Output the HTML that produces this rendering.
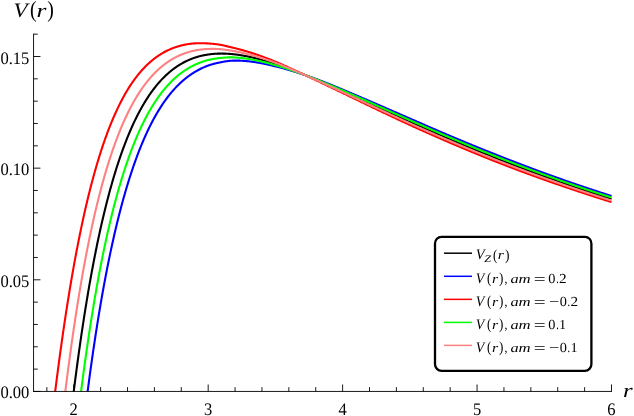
<!DOCTYPE html>
<html><head><meta charset="utf-8"><title>V(r)</title>
<style>html,body{margin:0;padding:0;background:#fff;}body{width:634px;height:416px;overflow:hidden;font-family:"Liberation Serif",serif;}svg{display:block;will-change:transform} text{text-rendering:geometricPrecision}</style>
</head><body>
<svg width="634" height="416" viewBox="0 0 634 416">
<rect width="634" height="416" fill="#fff"/>
<defs><clipPath id="cp"><rect x="33.55" y="0" width="590" height="391.45"/></clipPath></defs>
<g clip-path="url(#cp)" fill="none" stroke-width="2.1" stroke-linejoin="round">
<path d="M73.01,397.33 L73.49,393.48 L73.96,389.66 L74.44,385.88 L74.92,382.14 L75.39,378.44 L75.87,374.78 L76.35,371.15 L76.82,367.57 L77.30,364.01 L77.78,360.50 L78.25,357.02 L78.73,353.58 L79.21,350.17 L79.68,346.80 L80.16,343.46 L80.64,340.16 L81.11,336.89 L81.59,333.65 L82.07,330.45 L82.54,327.28 L83.02,324.14 L83.50,321.04 L83.97,317.96 L84.45,314.92 L84.92,311.91 L85.40,308.93 L85.88,305.98 L86.35,303.06 L86.83,300.17 L87.31,297.31 L87.78,294.48 L88.26,291.68 L88.74,288.91 L89.21,286.16 L89.69,283.44 L90.17,280.76 L90.64,278.09 L91.12,275.46 L91.60,272.85 L92.07,270.27 L92.55,267.72 L93.03,265.19 L93.50,262.69 L93.98,260.21 L94.46,257.76 L94.93,255.34 L95.41,252.94 L95.89,250.56 L96.36,248.21 L96.84,245.88 L97.31,243.58 L97.79,241.30 L98.27,239.04 L98.74,236.81 L99.22,234.60 L99.70,232.41 L100.17,230.24 L100.65,228.10 L101.13,225.98 L101.60,223.88 L102.08,221.80 L102.56,219.74 L103.03,217.71 L103.51,215.69 L103.99,213.70 L104.46,211.73 L104.94,209.78 L105.42,207.84 L105.89,205.93 L106.37,204.04 L106.85,202.17 L107.32,200.31 L107.80,198.48 L108.28,196.66 L108.75,194.87 L109.23,193.09 L109.70,191.33 L110.18,189.59 L110.66,187.86 L111.13,186.16 L111.61,184.47 L112.09,182.80 L112.56,181.15 L113.04,179.51 L113.52,177.90 L113.99,176.29 L114.47,174.71 L114.95,173.14 L115.42,171.59 L115.90,170.06 L116.38,168.54 L116.85,167.03 L117.33,165.55 L117.81,164.07 L118.28,162.62 L118.76,161.18 L119.24,159.75 L119.71,158.34 L120.19,156.95 L120.67,155.57 L121.14,154.20 L121.62,152.85 L122.09,151.51 L122.57,150.19 L123.05,148.88 L123.52,147.59 L124.00,146.30 L124.48,145.04 L124.95,143.78 L125.43,142.54 L125.91,141.32 L126.38,140.10 L126.86,138.90 L127.34,137.71 L127.81,136.54 L128.29,135.38 L128.77,134.23 L129.24,133.09 L129.72,131.97 L130.20,130.85 L130.67,129.75 L131.15,128.66 L131.63,127.59 L132.10,126.52 L132.58,125.47 L133.06,124.43 L133.53,123.40 L134.01,122.38 L134.48,121.37 L134.96,120.38 L135.44,119.39 L135.91,118.42 L136.39,117.46 L136.87,116.50 L137.34,115.56 L137.82,114.63 L138.30,113.71 L138.77,112.80 L139.25,111.90 L139.73,111.01 L140.20,110.13 L140.68,109.26 L141.16,108.40 L141.63,107.55 L142.11,106.71 L142.59,105.88 L143.06,105.06 L143.54,104.24 L144.02,103.44 L144.49,102.65 L144.97,101.87 L145.45,101.09 L145.92,100.32 L146.40,99.57 L146.87,98.82 L147.35,98.08 L147.83,97.35 L148.30,96.63 L148.78,95.91 L149.26,95.21 L149.73,94.51 L150.21,93.83 L150.69,93.15 L151.16,92.47 L151.64,91.81 L152.12,91.15 L152.59,90.51 L153.07,89.87 L153.55,89.24 L154.02,88.61 L154.50,88.00 L154.98,87.39 L155.45,86.79 L155.93,86.19 L156.41,85.60 L156.88,85.03 L157.36,84.45 L157.84,83.89 L158.31,83.33 L158.79,82.78 L159.26,82.24 L159.74,81.70 L160.22,81.17 L160.69,80.65 L161.17,80.13 L161.65,79.62 L162.12,79.12 L162.60,78.63 L163.08,78.14 L163.55,77.65 L164.03,77.18 L164.51,76.71 L164.98,76.24 L165.46,75.79 L165.94,75.33 L166.41,74.89 L166.89,74.45 L167.37,74.02 L167.84,73.59 L168.32,73.17 L168.80,72.75 L169.27,72.34 L169.75,71.94 L170.23,71.54 L170.70,71.15 L171.18,70.76 L171.65,70.38 L172.13,70.01 L172.61,69.64 L173.08,69.27 L173.56,68.91 L174.04,68.56 L174.51,68.21 L174.99,67.87 L175.47,67.53 L175.94,67.19 L176.42,66.87 L176.90,66.54 L177.37,66.23 L177.85,65.91 L178.33,65.60 L178.80,65.30 L179.28,65.00 L179.76,64.71 L180.23,64.42 L180.71,64.14 L181.19,63.86 L181.66,63.58 L182.14,63.31 L182.62,63.05 L183.09,62.79 L183.57,62.53 L184.04,62.28 L184.52,62.03 L185.00,61.79 L185.47,61.55 L185.95,61.31 L186.43,61.08 L186.90,60.86 L187.38,60.63 L187.86,60.41 L188.33,60.20 L188.81,59.99 L189.29,59.79 L189.76,59.58 L190.24,59.39 L190.72,59.19 L191.19,59.00 L191.67,58.81 L192.15,58.63 L192.62,58.45 L193.10,58.28 L193.58,58.11 L194.05,57.94 L194.53,57.78 L195.01,57.62 L195.48,57.46 L195.96,57.31 L196.43,57.16 L196.91,57.01 L197.39,56.87 L197.86,56.73 L198.34,56.59 L198.82,56.46 L199.29,56.33 L199.77,56.21 L200.25,56.09 L200.72,55.97 L201.20,55.85 L201.68,55.74 L202.15,55.63 L202.63,55.52 L203.11,55.42 L203.58,55.32 L204.06,55.22 L204.54,55.13 L205.01,55.04 L205.49,54.95 L205.97,54.87 L206.44,54.78 L206.92,54.70 L207.40,54.63 L207.87,54.55 L208.35,54.48 L208.82,54.42 L209.30,54.35 L209.78,54.29 L210.25,54.23 L210.73,54.17 L211.21,54.12 L211.68,54.07 L212.16,54.02 L212.64,53.97 L213.11,53.93 L213.59,53.89 L214.07,53.85 L214.54,53.82 L215.02,53.78 L215.50,53.75 L215.97,53.73 L216.45,53.70 L216.93,53.68 L217.40,53.66 L217.88,53.64 L218.36,53.62 L218.83,53.61 L219.31,53.60 L219.79,53.59 L220.26,53.58 L220.74,53.58 L221.21,53.57 L221.69,53.57 L222.17,53.58 L222.64,53.58 L223.12,53.59 L223.60,53.60 L224.07,53.61 L224.55,53.62 L225.03,53.63 L225.50,53.65 L225.98,53.67 L226.46,53.69 L226.93,53.71 L227.41,53.74 L227.89,53.77 L228.36,53.80 L228.84,53.83 L229.32,53.86 L229.79,53.90 L230.27,53.93 L230.75,53.97 L231.22,54.01 L231.70,54.05 L232.18,54.10 L232.65,54.14 L233.13,54.19 L233.60,54.24 L234.08,54.29 L234.56,54.35 L235.03,54.40 L235.51,54.46 L235.99,54.52 L236.46,54.58 L236.94,54.64 L237.42,54.70 L237.89,54.77 L238.37,54.83 L238.85,54.90 L239.32,54.97 L239.80,55.04 L240.28,55.12 L240.75,55.19 L241.23,55.27 L241.71,55.35 L242.18,55.43 L242.66,55.51 L243.14,55.59 L243.61,55.67 L244.09,55.76 L244.57,55.84 L245.04,55.93 L245.52,56.02 L245.99,56.11 L246.47,56.21 L246.95,56.30 L247.42,56.40 L247.90,56.49 L248.38,56.59 L248.85,56.69 L249.33,56.79 L249.81,56.89 L250.28,56.99 L250.76,57.10 L251.24,57.20 L251.71,57.31 L252.19,57.42 L252.67,57.53 L253.14,57.64 L253.62,57.75 L254.10,57.87 L254.57,57.98 L255.05,58.10 L255.53,58.21 L256.00,58.33 L256.48,58.45 L256.96,58.57 L257.43,58.69 L257.91,58.81 L258.38,58.94 L258.86,59.06 L259.34,59.19 L259.81,59.32 L260.29,59.44 L260.77,59.57 L261.24,59.70 L261.72,59.83 L262.20,59.97 L262.67,60.10 L263.15,60.23 L263.63,60.37 L264.10,60.51 L264.58,60.64 L265.06,60.78 L265.53,60.92 L266.01,61.06 L266.49,61.20 L266.96,61.34 L267.44,61.49 L267.92,61.63 L268.39,61.77 L268.87,61.92 L269.35,62.07 L269.82,62.21 L270.30,62.36 L270.77,62.51 L271.25,62.66 L271.73,62.81 L272.20,62.97 L272.68,63.12 L273.16,63.27 L273.63,63.43 L274.11,63.58 L274.59,63.74 L275.06,63.89 L275.54,64.05 L276.02,64.21 L276.49,64.37 L276.97,64.53 L277.45,64.69 L277.92,64.85 L278.40,65.01 L278.88,65.18 L279.35,65.34 L279.83,65.50 L280.31,65.67 L280.78,65.84 L281.26,66.00 L281.74,66.17 L282.21,66.34 L282.69,66.51 L283.16,66.67 L283.64,66.84 L284.12,67.02 L284.59,67.19 L285.07,67.36 L285.55,67.53 L286.02,67.70 L286.50,67.88 L286.98,68.05 L287.45,68.23 L287.93,68.40 L288.41,68.58 L288.88,68.76 L289.36,68.93 L289.84,69.11 L290.31,69.29 L290.79,69.47 L291.27,69.65 L291.74,69.83 L292.22,70.01 L292.70,70.19 L293.17,70.37 L293.65,70.56 L294.13,70.74 L294.60,70.92 L295.08,71.11 L295.55,71.29 L296.03,71.48 L296.51,71.66 L296.98,71.85 L297.46,72.03 L297.94,72.22 L298.41,72.41 L298.89,72.60 L299.37,72.78 L299.84,72.97 L300.32,73.16 L300.80,73.35 L301.27,73.54 L301.75,73.73 L302.23,73.92 L302.70,74.12 L303.18,74.31 L303.66,74.50 L304.13,74.69 L304.61,74.89 L305.09,75.08 L305.56,75.27 L306.04,75.47 L306.52,75.66 L306.99,75.86 L307.47,76.06 L307.94,76.25 L308.42,76.45 L308.90,76.64 L309.37,76.84 L309.85,77.04 L310.33,77.24 L310.80,77.44 L311.28,77.63 L311.76,77.83 L312.23,78.03 L312.71,78.23 L313.19,78.43 L313.66,78.63 L314.14,78.83 L314.62,79.03 L315.09,79.23 L315.57,79.44 L316.05,79.64 L316.52,79.84 L317.00,80.04 L317.48,80.25 L317.95,80.45 L318.43,80.65 L318.91,80.86 L319.38,81.06 L319.86,81.26 L320.33,81.47 L320.81,81.67 L321.29,81.88 L321.76,82.08 L322.24,82.29 L322.72,82.49 L323.19,82.70 L323.67,82.91 L324.15,83.11 L324.62,83.32 L325.10,83.53 L325.58,83.73 L326.05,83.94 L326.53,84.15 L327.01,84.36 L327.48,84.57 L327.96,84.77 L328.44,84.98 L328.91,85.19 L329.39,85.40 L329.87,85.61 L330.34,85.82 L330.82,86.03 L331.30,86.24 L331.77,86.45 L332.25,86.66 L332.72,86.87 L333.20,87.08 L333.68,87.29 L334.15,87.50 L334.63,87.71 L335.11,87.92 L335.58,88.14 L336.06,88.35 L336.54,88.56 L337.01,88.77 L337.49,88.98 L337.97,89.20 L338.44,89.41 L338.92,89.62 L339.40,89.83 L339.87,90.05 L340.35,90.26 L340.83,90.47 L341.30,90.69 L341.78,90.90 L342.26,91.11 L342.73,91.33 L343.21,91.54 L343.69,91.75 L344.16,91.97 L344.64,92.18 L345.11,92.40 L345.59,92.61 L346.07,92.82 L346.54,93.04 L347.02,93.25 L347.50,93.47 L347.97,93.68 L348.45,93.90 L348.93,94.11 L349.40,94.33 L349.88,94.54 L350.36,94.76 L350.83,94.97 L351.31,95.19 L351.79,95.41 L352.26,95.62 L352.74,95.84 L353.22,96.05 L353.69,96.27 L354.17,96.48 L354.65,96.70 L355.12,96.92 L355.60,97.13 L356.08,97.35 L356.55,97.57 L357.03,97.78 L357.50,98.00 L357.98,98.21 L358.46,98.43 L358.93,98.65 L359.41,98.86 L359.89,99.08 L360.36,99.30 L360.84,99.51 L361.32,99.73 L361.79,99.95 L362.27,100.16 L362.75,100.38 L363.22,100.60 L363.70,100.82 L364.18,101.03 L364.65,101.25 L365.13,101.47 L365.61,101.68 L366.08,101.90 L366.56,102.12 L367.04,102.33 L367.51,102.55 L367.99,102.77 L368.47,102.99 L368.94,103.20 L369.42,103.42 L369.89,103.64 L370.37,103.85 L370.85,104.07 L371.32,104.29 L371.80,104.51 L372.28,104.72 L372.75,104.94 L373.23,105.16 L373.71,105.37 L374.18,105.59 L374.66,105.81 L375.14,106.03 L375.61,106.24 L376.09,106.46 L376.57,106.68 L377.04,106.89 L377.52,107.11 L378.00,107.33 L378.47,107.55 L378.95,107.76 L379.43,107.98 L379.90,108.20 L380.38,108.41 L380.86,108.63 L381.33,108.85 L381.81,109.06 L382.28,109.28 L382.76,109.50 L383.24,109.71 L383.71,109.93 L384.19,110.15 L384.67,110.37 L385.14,110.58 L385.62,110.80 L386.10,111.01 L386.57,111.23 L387.05,111.45 L387.53,111.66 L388.00,111.88 L388.48,112.10 L388.96,112.31 L389.43,112.53 L389.91,112.75 L390.39,112.96 L390.86,113.18 L391.34,113.39 L391.82,113.61 L392.29,113.83 L392.77,114.04 L393.25,114.26 L393.72,114.47 L394.20,114.69 L394.67,114.90 L395.15,115.12 L395.63,115.34 L396.10,115.55 L396.58,115.77 L397.06,115.98 L397.53,116.20 L398.01,116.41 L398.49,116.63 L398.96,116.84 L399.44,117.06 L399.92,117.27 L400.39,117.49 L400.87,117.70 L401.35,117.92 L401.82,118.13 L402.30,118.34 L402.78,118.56 L403.25,118.77 L403.73,118.99 L404.21,119.20 L404.68,119.42 L405.16,119.63 L405.64,119.84 L406.11,120.06 L406.59,120.27 L407.06,120.48 L407.54,120.70 L408.02,120.91 L408.49,121.13 L408.97,121.34 L409.45,121.55 L409.92,121.76 L410.40,121.98 L410.88,122.19 L411.35,122.40 L411.83,122.62 L412.31,122.83 L412.78,123.04 L413.26,123.25 L413.74,123.47 L414.21,123.68 L414.69,123.89 L415.17,124.10 L415.64,124.31 L416.12,124.53 L416.60,124.74 L417.07,124.95 L417.55,125.16 L418.03,125.37 L418.50,125.58 L418.98,125.79 L419.45,126.01 L419.93,126.22 L420.41,126.43 L420.88,126.64 L421.36,126.85 L421.84,127.06 L422.31,127.27 L422.79,127.48 L423.27,127.69 L423.74,127.90 L424.22,128.11 L424.70,128.32 L425.17,128.53 L425.65,128.74 L426.13,128.95 L426.60,129.16 L427.08,129.37 L427.56,129.58 L428.03,129.79 L428.51,130.00 L428.99,130.20 L429.46,130.41 L429.94,130.62 L430.42,130.83 L430.89,131.04 L431.37,131.25 L431.84,131.45 L432.32,131.66 L432.80,131.87 L433.27,132.08 L433.75,132.29 L434.23,132.49 L434.70,132.70 L435.18,132.91 L435.66,133.11 L436.13,133.32 L436.61,133.53 L437.09,133.73 L437.56,133.94 L438.04,134.15 L438.52,134.35 L438.99,134.56 L439.47,134.77 L439.95,134.97 L440.42,135.18 L440.90,135.38 L441.38,135.59 L441.85,135.79 L442.33,136.00 L442.81,136.20 L443.28,136.41 L443.76,136.61 L444.23,136.82 L444.71,137.02 L445.19,137.23 L445.66,137.43 L446.14,137.64 L446.62,137.84 L447.09,138.04 L447.57,138.25 L448.05,138.45 L448.52,138.65 L449.00,138.86 L449.48,139.06 L449.95,139.26 L450.43,139.47 L450.91,139.67 L451.38,139.87 L451.86,140.08 L452.34,140.28 L452.81,140.48 L453.29,140.68 L453.77,140.88 L454.24,141.09 L454.72,141.29 L455.20,141.49 L455.67,141.69 L456.15,141.89 L456.62,142.09 L457.10,142.29 L457.58,142.49 L458.05,142.69 L458.53,142.89 L459.01,143.09 L459.48,143.29 L459.96,143.49 L460.44,143.69 L460.91,143.89 L461.39,144.09 L461.87,144.29 L462.34,144.49 L462.82,144.69 L463.30,144.89 L463.77,145.09 L464.25,145.29 L464.73,145.49 L465.20,145.68 L465.68,145.88 L466.16,146.08 L466.63,146.28 L467.11,146.48 L467.59,146.67 L468.06,146.87 L468.54,147.07 L469.01,147.27 L469.49,147.46 L469.97,147.66 L470.44,147.86 L470.92,148.05 L471.40,148.25 L471.87,148.45 L472.35,148.64 L472.83,148.84 L473.30,149.03 L473.78,149.23 L474.26,149.42 L474.73,149.62 L475.21,149.82 L475.69,150.01 L476.16,150.21 L476.64,150.40 L477.12,150.59 L477.59,150.79 L478.07,150.98 L478.55,151.18 L479.02,151.37 L479.50,151.56 L479.98,151.76 L480.45,151.95 L480.93,152.14 L481.40,152.34 L481.88,152.53 L482.36,152.72 L482.83,152.92 L483.31,153.11 L483.79,153.30 L484.26,153.49 L484.74,153.69 L485.22,153.88 L485.69,154.07 L486.17,154.26 L486.65,154.45 L487.12,154.64 L487.60,154.83 L488.08,155.02 L488.55,155.22 L489.03,155.41 L489.51,155.60 L489.98,155.79 L490.46,155.98 L490.94,156.17 L491.41,156.36 L491.89,156.55 L492.37,156.74 L492.84,156.93 L493.32,157.11 L493.79,157.30 L494.27,157.49 L494.75,157.68 L495.22,157.87 L495.70,158.06 L496.18,158.25 L496.65,158.43 L497.13,158.62 L497.61,158.81 L498.08,159.00 L498.56,159.18 L499.04,159.37 L499.51,159.56 L499.99,159.75 L500.47,159.93 L500.94,160.12 L501.42,160.30 L501.90,160.49 L502.37,160.68 L502.85,160.86 L503.33,161.05 L503.80,161.23 L504.28,161.42 L504.76,161.60 L505.23,161.79 L505.71,161.97 L506.18,162.16 L506.66,162.34 L507.14,162.53 L507.61,162.71 L508.09,162.90 L508.57,163.08 L509.04,163.26 L509.52,163.45 L510.00,163.63 L510.47,163.82 L510.95,164.00 L511.43,164.18 L511.90,164.36 L512.38,164.55 L512.86,164.73 L513.33,164.91 L513.81,165.09 L514.29,165.28 L514.76,165.46 L515.24,165.64 L515.72,165.82 L516.19,166.00 L516.67,166.18 L517.15,166.36 L517.62,166.55 L518.10,166.73 L518.57,166.91 L519.05,167.09 L519.53,167.27 L520.00,167.45 L520.48,167.63 L520.96,167.81 L521.43,167.99 L521.91,168.17 L522.39,168.34 L522.86,168.52 L523.34,168.70 L523.82,168.88 L524.29,169.06 L524.77,169.24 L525.25,169.42 L525.72,169.59 L526.20,169.77 L526.68,169.95 L527.15,170.13 L527.63,170.30 L528.11,170.48 L528.58,170.66 L529.06,170.84 L529.54,171.01 L530.01,171.19 L530.49,171.37 L530.96,171.54 L531.44,171.72 L531.92,171.89 L532.39,172.07 L532.87,172.25 L533.35,172.42 L533.82,172.60 L534.30,172.77 L534.78,172.95 L535.25,173.12 L535.73,173.30 L536.21,173.47 L536.68,173.64 L537.16,173.82 L537.64,173.99 L538.11,174.17 L538.59,174.34 L539.07,174.51 L539.54,174.69 L540.02,174.86 L540.50,175.03 L540.97,175.21 L541.45,175.38 L541.93,175.55 L542.40,175.72 L542.88,175.90 L543.35,176.07 L543.83,176.24 L544.31,176.41 L544.78,176.58 L545.26,176.75 L545.74,176.93 L546.21,177.10 L546.69,177.27 L547.17,177.44 L547.64,177.61 L548.12,177.78 L548.60,177.95 L549.07,178.12 L549.55,178.29 L550.03,178.46 L550.50,178.63 L550.98,178.80 L551.46,178.97 L551.93,179.14 L552.41,179.31 L552.89,179.47 L553.36,179.64 L553.84,179.81 L554.32,179.98 L554.79,180.15 L555.27,180.32 L555.74,180.48 L556.22,180.65 L556.70,180.82 L557.17,180.99 L557.65,181.15 L558.13,181.32 L558.60,181.49 L559.08,181.65 L559.56,181.82 L560.03,181.99 L560.51,182.15 L560.99,182.32 L561.46,182.48 L561.94,182.65 L562.42,182.82 L562.89,182.98 L563.37,183.15 L563.85,183.31 L564.32,183.48 L564.80,183.64 L565.28,183.81 L565.75,183.97 L566.23,184.13 L566.71,184.30 L567.18,184.46 L567.66,184.63 L568.13,184.79 L568.61,184.95 L569.09,185.12 L569.56,185.28 L570.04,185.44 L570.52,185.61 L570.99,185.77 L571.47,185.93 L571.95,186.09 L572.42,186.26 L572.90,186.42 L573.38,186.58 L573.85,186.74 L574.33,186.90 L574.81,187.06 L575.28,187.23 L575.76,187.39 L576.24,187.55 L576.71,187.71 L577.19,187.87 L577.67,188.03 L578.14,188.19 L578.62,188.35 L579.10,188.51 L579.57,188.67 L580.05,188.83 L580.52,188.99 L581.00,189.15 L581.48,189.31 L581.95,189.47 L582.43,189.63 L582.91,189.78 L583.38,189.94 L583.86,190.10 L584.34,190.26 L584.81,190.42 L585.29,190.58 L585.77,190.73 L586.24,190.89 L586.72,191.05 L587.20,191.21 L587.67,191.36 L588.15,191.52 L588.63,191.68 L589.10,191.83 L589.58,191.99 L590.06,192.15 L590.53,192.30 L591.01,192.46 L591.49,192.61 L591.96,192.77 L592.44,192.93 L592.91,193.08 L593.39,193.24 L593.87,193.39 L594.34,193.55 L594.82,193.70 L595.30,193.86 L595.77,194.01 L596.25,194.17 L596.73,194.32 L597.20,194.47 L597.68,194.63 L598.16,194.78 L598.63,194.94 L599.11,195.09 L599.59,195.24 L600.06,195.40 L600.54,195.55 L601.02,195.70 L601.49,195.85 L601.97,196.01 L602.45,196.16 L602.92,196.31 L603.40,196.46 L603.88,196.62 L604.35,196.77 L604.83,196.92 L605.30,197.07 L605.78,197.22 L606.26,197.37 L606.73,197.52 L607.21,197.67 L607.69,197.83 L608.16,197.98 L608.64,198.13 L609.12,198.28 L609.59,198.43 L610.07,198.58 L610.55,198.73 L611.02,198.88 L611.50,199.03" stroke="#000000"/>
<path d="M86.83,397.66 L87.31,393.94 L87.78,390.26 L88.26,386.62 L88.74,383.01 L89.21,379.45 L89.69,375.92 L90.17,372.42 L90.64,368.96 L91.12,365.54 L91.60,362.15 L92.07,358.80 L92.55,355.48 L93.03,352.20 L93.50,348.94 L93.98,345.73 L94.46,342.54 L94.93,339.39 L95.41,336.27 L95.89,333.18 L96.36,330.12 L96.84,327.09 L97.31,324.09 L97.79,321.12 L98.27,318.18 L98.74,315.28 L99.22,312.40 L99.70,309.55 L100.17,306.73 L100.65,303.93 L101.13,301.17 L101.60,298.43 L102.08,295.72 L102.56,293.04 L103.03,290.39 L103.51,287.76 L103.99,285.16 L104.46,282.58 L104.94,280.03 L105.42,277.51 L105.89,275.01 L106.37,272.54 L106.85,270.10 L107.32,267.67 L107.80,265.28 L108.28,262.90 L108.75,260.55 L109.23,258.22 L109.70,255.91 L110.18,253.63 L110.66,251.37 L111.13,249.13 L111.61,246.92 L112.09,244.72 L112.56,242.55 L113.04,240.40 L113.52,238.27 L113.99,236.16 L114.47,234.08 L114.95,232.01 L115.42,229.97 L115.90,227.95 L116.38,225.95 L116.85,223.97 L117.33,222.01 L117.81,220.07 L118.28,218.16 L118.76,216.26 L119.24,214.38 L119.71,212.53 L120.19,210.69 L120.67,208.87 L121.14,207.08 L121.62,205.30 L122.09,203.53 L122.57,201.79 L123.05,200.06 L123.52,198.34 L124.00,196.65 L124.48,194.97 L124.95,193.31 L125.43,191.66 L125.91,190.03 L126.38,188.41 L126.86,186.81 L127.34,185.23 L127.81,183.66 L128.29,182.11 L128.77,180.57 L129.24,179.05 L129.72,177.54 L130.20,176.05 L130.67,174.58 L131.15,173.11 L131.63,171.67 L132.10,170.24 L132.58,168.82 L133.06,167.41 L133.53,166.03 L134.01,164.65 L134.48,163.29 L134.96,161.95 L135.44,160.61 L135.91,159.30 L136.39,157.99 L136.87,156.70 L137.34,155.43 L137.82,154.16 L138.30,152.91 L138.77,151.68 L139.25,150.46 L139.73,149.25 L140.20,148.05 L140.68,146.87 L141.16,145.70 L141.63,144.54 L142.11,143.39 L142.59,142.26 L143.06,141.14 L143.54,140.03 L144.02,138.93 L144.49,137.84 L144.97,136.76 L145.45,135.70 L145.92,134.64 L146.40,133.60 L146.87,132.57 L147.35,131.55 L147.83,130.54 L148.30,129.54 L148.78,128.55 L149.26,127.57 L149.73,126.60 L150.21,125.64 L150.69,124.70 L151.16,123.76 L151.64,122.83 L152.12,121.92 L152.59,121.01 L153.07,120.12 L153.55,119.23 L154.02,118.35 L154.50,117.49 L154.98,116.63 L155.45,115.78 L155.93,114.94 L156.41,114.11 L156.88,113.30 L157.36,112.49 L157.84,111.69 L158.31,110.89 L158.79,110.11 L159.26,109.34 L159.74,108.58 L160.22,107.82 L160.69,107.08 L161.17,106.34 L161.65,105.61 L162.12,104.89 L162.60,104.18 L163.08,103.47 L163.55,102.78 L164.03,102.09 L164.51,101.41 L164.98,100.74 L165.46,100.08 L165.94,99.42 L166.41,98.77 L166.89,98.13 L167.37,97.50 L167.84,96.87 L168.32,96.26 L168.80,95.64 L169.27,95.04 L169.75,94.45 L170.23,93.86 L170.70,93.28 L171.18,92.70 L171.65,92.13 L172.13,91.57 L172.61,91.02 L173.08,90.48 L173.56,89.94 L174.04,89.40 L174.51,88.88 L174.99,88.36 L175.47,87.85 L175.94,87.34 L176.42,86.84 L176.90,86.35 L177.37,85.87 L177.85,85.39 L178.33,84.91 L178.80,84.45 L179.28,83.99 L179.76,83.53 L180.23,83.08 L180.71,82.64 L181.19,82.20 L181.66,81.77 L182.14,81.35 L182.62,80.93 L183.09,80.52 L183.57,80.11 L184.04,79.71 L184.52,79.31 L185.00,78.92 L185.47,78.53 L185.95,78.15 L186.43,77.78 L186.90,77.41 L187.38,77.04 L187.86,76.68 L188.33,76.33 L188.81,75.98 L189.29,75.63 L189.76,75.30 L190.24,74.96 L190.72,74.63 L191.19,74.31 L191.67,73.99 L192.15,73.67 L192.62,73.36 L193.10,73.05 L193.58,72.75 L194.05,72.45 L194.53,72.16 L195.01,71.87 L195.48,71.59 L195.96,71.31 L196.43,71.03 L196.91,70.76 L197.39,70.50 L197.86,70.23 L198.34,69.98 L198.82,69.72 L199.29,69.47 L199.77,69.22 L200.25,68.98 L200.72,68.74 L201.20,68.51 L201.68,68.28 L202.15,68.05 L202.63,67.83 L203.11,67.61 L203.58,67.40 L204.06,67.19 L204.54,66.99 L205.01,66.78 L205.49,66.59 L205.97,66.40 L206.44,66.21 L206.92,66.02 L207.40,65.84 L207.87,65.67 L208.35,65.49 L208.82,65.33 L209.30,65.16 L209.78,65.00 L210.25,64.85 L210.73,64.70 L211.21,64.55 L211.68,64.41 L212.16,64.27 L212.64,64.14 L213.11,64.01 L213.59,63.89 L214.07,63.76 L214.54,63.64 L215.02,63.53 L215.50,63.42 L215.97,63.31 L216.45,63.20 L216.93,63.09 L217.40,62.99 L217.88,62.89 L218.36,62.79 L218.83,62.69 L219.31,62.59 L219.79,62.50 L220.26,62.40 L220.74,62.31 L221.21,62.21 L221.69,62.11 L222.17,62.02 L222.64,61.93 L223.12,61.83 L223.60,61.74 L224.07,61.65 L224.55,61.57 L225.03,61.48 L225.50,61.40 L225.98,61.32 L226.46,61.24 L226.93,61.17 L227.41,61.11 L227.89,61.04 L228.36,60.98 L228.84,60.93 L229.32,60.88 L229.79,60.84 L230.27,60.80 L230.75,60.77 L231.22,60.74 L231.70,60.72 L232.18,60.69 L232.65,60.67 L233.13,60.65 L233.60,60.64 L234.08,60.62 L234.56,60.61 L235.03,60.61 L235.51,60.60 L235.99,60.60 L236.46,60.60 L236.94,60.60 L237.42,60.60 L237.89,60.61 L238.37,60.62 L238.85,60.63 L239.32,60.64 L239.80,60.66 L240.28,60.68 L240.75,60.70 L241.23,60.72 L241.71,60.74 L242.18,60.77 L242.66,60.80 L243.14,60.83 L243.61,60.86 L244.09,60.89 L244.57,60.93 L245.04,60.96 L245.52,61.00 L245.99,61.05 L246.47,61.09 L246.95,61.13 L247.42,61.18 L247.90,61.23 L248.38,61.28 L248.85,61.33 L249.33,61.38 L249.81,61.44 L250.28,61.49 L250.76,61.55 L251.24,61.61 L251.71,61.67 L252.19,61.73 L252.67,61.80 L253.14,61.86 L253.62,61.93 L254.10,61.99 L254.57,62.06 L255.05,62.13 L255.53,62.20 L256.00,62.28 L256.48,62.35 L256.96,62.43 L257.43,62.51 L257.91,62.59 L258.38,62.67 L258.86,62.75 L259.34,62.83 L259.81,62.92 L260.29,63.01 L260.77,63.10 L261.24,63.19 L261.72,63.28 L262.20,63.37 L262.67,63.46 L263.15,63.56 L263.63,63.66 L264.10,63.75 L264.58,63.85 L265.06,63.95 L265.53,64.05 L266.01,64.15 L266.49,64.26 L266.96,64.36 L267.44,64.47 L267.92,64.57 L268.39,64.68 L268.87,64.78 L269.35,64.89 L269.82,65.00 L270.30,65.11 L270.77,65.22 L271.25,65.33 L271.73,65.44 L272.20,65.55 L272.68,65.67 L273.16,65.78 L273.63,65.90 L274.11,66.01 L274.59,66.13 L275.06,66.24 L275.54,66.36 L276.02,66.48 L276.49,66.60 L276.97,66.72 L277.45,66.84 L277.92,66.96 L278.40,67.08 L278.88,67.21 L279.35,67.33 L279.83,67.45 L280.31,67.58 L280.78,67.71 L281.26,67.83 L281.74,67.96 L282.21,68.09 L282.69,68.22 L283.16,68.35 L283.64,68.48 L284.12,68.61 L284.59,68.74 L285.07,68.87 L285.55,69.00 L286.02,69.14 L286.50,69.27 L286.98,69.41 L287.45,69.54 L287.93,69.68 L288.41,69.82 L288.88,69.96 L289.36,70.09 L289.84,70.23 L290.31,70.37 L290.79,70.52 L291.27,70.66 L291.74,70.80 L292.22,70.94 L292.70,71.09 L293.17,71.23 L293.65,71.38 L294.13,71.52 L294.60,71.67 L295.08,71.82 L295.55,71.96 L296.03,72.11 L296.51,72.26 L296.98,72.41 L297.46,72.56 L297.94,72.71 L298.41,72.87 L298.89,73.02 L299.37,73.17 L299.84,73.33 L300.32,73.48 L300.80,73.64 L301.27,73.80 L301.75,73.95 L302.23,74.11 L302.70,74.27 L303.18,74.43 L303.66,74.59 L304.13,74.75 L304.61,74.91 L305.09,75.07 L305.56,75.24 L306.04,75.40 L306.52,75.57 L306.99,75.73 L307.47,75.90 L307.94,76.07 L308.42,76.24 L308.90,76.41 L309.37,76.58 L309.85,76.75 L310.33,76.92 L310.80,77.09 L311.28,77.26 L311.76,77.44 L312.23,77.61 L312.71,77.78 L313.19,77.96 L313.66,78.13 L314.14,78.31 L314.62,78.48 L315.09,78.66 L315.57,78.83 L316.05,79.01 L316.52,79.19 L317.00,79.36 L317.48,79.54 L317.95,79.72 L318.43,79.90 L318.91,80.08 L319.38,80.26 L319.86,80.44 L320.33,80.62 L320.81,80.80 L321.29,80.98 L321.76,81.16 L322.24,81.34 L322.72,81.53 L323.19,81.71 L323.67,81.89 L324.15,82.08 L324.62,82.26 L325.10,82.45 L325.58,82.63 L326.05,82.82 L326.53,83.01 L327.01,83.19 L327.48,83.38 L327.96,83.57 L328.44,83.76 L328.91,83.95 L329.39,84.14 L329.87,84.33 L330.34,84.52 L330.82,84.71 L331.30,84.90 L331.77,85.10 L332.25,85.29 L332.72,85.48 L333.20,85.68 L333.68,85.87 L334.15,86.07 L334.63,86.26 L335.11,86.46 L335.58,86.65 L336.06,86.85 L336.54,87.04 L337.01,87.24 L337.49,87.44 L337.97,87.63 L338.44,87.83 L338.92,88.03 L339.40,88.23 L339.87,88.43 L340.35,88.62 L340.83,88.82 L341.30,89.02 L341.78,89.22 L342.26,89.42 L342.73,89.62 L343.21,89.82 L343.69,90.02 L344.16,90.22 L344.64,90.42 L345.11,90.62 L345.59,90.82 L346.07,91.02 L346.54,91.22 L347.02,91.43 L347.50,91.63 L347.97,91.83 L348.45,92.03 L348.93,92.23 L349.40,92.43 L349.88,92.63 L350.36,92.84 L350.83,93.04 L351.31,93.24 L351.79,93.44 L352.26,93.64 L352.74,93.85 L353.22,94.05 L353.69,94.25 L354.17,94.45 L354.65,94.65 L355.12,94.86 L355.60,95.06 L356.08,95.26 L356.55,95.46 L357.03,95.67 L357.50,95.87 L357.98,96.07 L358.46,96.27 L358.93,96.48 L359.41,96.68 L359.89,96.88 L360.36,97.09 L360.84,97.29 L361.32,97.49 L361.79,97.70 L362.27,97.90 L362.75,98.10 L363.22,98.31 L363.70,98.51 L364.18,98.71 L364.65,98.92 L365.13,99.12 L365.61,99.33 L366.08,99.53 L366.56,99.73 L367.04,99.94 L367.51,100.14 L367.99,100.35 L368.47,100.55 L368.94,100.75 L369.42,100.96 L369.89,101.16 L370.37,101.37 L370.85,101.57 L371.32,101.78 L371.80,101.98 L372.28,102.19 L372.75,102.39 L373.23,102.60 L373.71,102.81 L374.18,103.01 L374.66,103.22 L375.14,103.42 L375.61,103.63 L376.09,103.83 L376.57,104.04 L377.04,104.25 L377.52,104.45 L378.00,104.66 L378.47,104.87 L378.95,105.07 L379.43,105.28 L379.90,105.49 L380.38,105.69 L380.86,105.90 L381.33,106.11 L381.81,106.32 L382.28,106.52 L382.76,106.73 L383.24,106.94 L383.71,107.15 L384.19,107.36 L384.67,107.56 L385.14,107.77 L385.62,107.98 L386.10,108.19 L386.57,108.40 L387.05,108.60 L387.53,108.81 L388.00,109.02 L388.48,109.23 L388.96,109.43 L389.43,109.64 L389.91,109.85 L390.39,110.06 L390.86,110.26 L391.34,110.47 L391.82,110.68 L392.29,110.88 L392.77,111.09 L393.25,111.30 L393.72,111.51 L394.20,111.71 L394.67,111.92 L395.15,112.13 L395.63,112.33 L396.10,112.54 L396.58,112.75 L397.06,112.96 L397.53,113.16 L398.01,113.37 L398.49,113.58 L398.96,113.78 L399.44,113.99 L399.92,114.20 L400.39,114.41 L400.87,114.61 L401.35,114.82 L401.82,115.03 L402.30,115.23 L402.78,115.44 L403.25,115.65 L403.73,115.86 L404.21,116.06 L404.68,116.27 L405.16,116.48 L405.64,116.68 L406.11,116.89 L406.59,117.10 L407.06,117.31 L407.54,117.51 L408.02,117.72 L408.49,117.93 L408.97,118.14 L409.45,118.34 L409.92,118.55 L410.40,118.76 L410.88,118.96 L411.35,119.17 L411.83,119.38 L412.31,119.59 L412.78,119.80 L413.26,120.00 L413.74,120.21 L414.21,120.42 L414.69,120.63 L415.17,120.83 L415.64,121.04 L416.12,121.25 L416.60,121.46 L417.07,121.67 L417.55,121.87 L418.03,122.08 L418.50,122.29 L418.98,122.50 L419.45,122.71 L419.93,122.92 L420.41,123.12 L420.88,123.33 L421.36,123.54 L421.84,123.75 L422.31,123.96 L422.79,124.17 L423.27,124.37 L423.74,124.58 L424.22,124.79 L424.70,125.00 L425.17,125.20 L425.65,125.41 L426.13,125.62 L426.60,125.83 L427.08,126.03 L427.56,126.24 L428.03,126.45 L428.51,126.65 L428.99,126.86 L429.46,127.07 L429.94,127.27 L430.42,127.48 L430.89,127.69 L431.37,127.89 L431.84,128.10 L432.32,128.31 L432.80,128.51 L433.27,128.72 L433.75,128.92 L434.23,129.13 L434.70,129.33 L435.18,129.54 L435.66,129.74 L436.13,129.95 L436.61,130.15 L437.09,130.36 L437.56,130.56 L438.04,130.77 L438.52,130.97 L438.99,131.18 L439.47,131.38 L439.95,131.59 L440.42,131.79 L440.90,131.99 L441.38,132.20 L441.85,132.40 L442.33,132.61 L442.81,132.81 L443.28,133.01 L443.76,133.22 L444.23,133.42 L444.71,133.62 L445.19,133.82 L445.66,134.03 L446.14,134.23 L446.62,134.43 L447.09,134.63 L447.57,134.84 L448.05,135.04 L448.52,135.24 L449.00,135.44 L449.48,135.64 L449.95,135.85 L450.43,136.05 L450.91,136.25 L451.38,136.45 L451.86,136.65 L452.34,136.85 L452.81,137.05 L453.29,137.25 L453.77,137.45 L454.24,137.65 L454.72,137.85 L455.20,138.05 L455.67,138.25 L456.15,138.45 L456.62,138.65 L457.10,138.85 L457.58,139.05 L458.05,139.25 L458.53,139.45 L459.01,139.65 L459.48,139.85 L459.96,140.05 L460.44,140.25 L460.91,140.45 L461.39,140.64 L461.87,140.84 L462.34,141.04 L462.82,141.24 L463.30,141.44 L463.77,141.63 L464.25,141.83 L464.73,142.03 L465.20,142.23 L465.68,142.42 L466.16,142.62 L466.63,142.82 L467.11,143.02 L467.59,143.21 L468.06,143.41 L468.54,143.61 L469.01,143.80 L469.49,144.00 L469.97,144.19 L470.44,144.39 L470.92,144.59 L471.40,144.78 L471.87,144.98 L472.35,145.17 L472.83,145.37 L473.30,145.56 L473.78,145.76 L474.26,145.95 L474.73,146.15 L475.21,146.34 L475.69,146.54 L476.16,146.73 L476.64,146.92 L477.12,147.12 L477.59,147.31 L478.07,147.51 L478.55,147.70 L479.02,147.89 L479.50,148.09 L479.98,148.28 L480.45,148.47 L480.93,148.67 L481.40,148.86 L481.88,149.05 L482.36,149.24 L482.83,149.44 L483.31,149.63 L483.79,149.82 L484.26,150.01 L484.74,150.20 L485.22,150.39 L485.69,150.59 L486.17,150.78 L486.65,150.97 L487.12,151.16 L487.60,151.35 L488.08,151.54 L488.55,151.73 L489.03,151.92 L489.51,152.11 L489.98,152.30 L490.46,152.49 L490.94,152.68 L491.41,152.87 L491.89,153.06 L492.37,153.25 L492.84,153.44 L493.32,153.63 L493.79,153.82 L494.27,154.01 L494.75,154.20 L495.22,154.39 L495.70,154.58 L496.18,154.77 L496.65,154.95 L497.13,155.14 L497.61,155.33 L498.08,155.52 L498.56,155.71 L499.04,155.89 L499.51,156.08 L499.99,156.27 L500.47,156.46 L500.94,156.64 L501.42,156.83 L501.90,157.02 L502.37,157.21 L502.85,157.39 L503.33,157.58 L503.80,157.77 L504.28,157.95 L504.76,158.14 L505.23,158.33 L505.71,158.51 L506.18,158.70 L506.66,158.88 L507.14,159.07 L507.61,159.25 L508.09,159.44 L508.57,159.63 L509.04,159.81 L509.52,160.00 L510.00,160.18 L510.47,160.37 L510.95,160.55 L511.43,160.73 L511.90,160.92 L512.38,161.10 L512.86,161.29 L513.33,161.47 L513.81,161.66 L514.29,161.84 L514.76,162.02 L515.24,162.21 L515.72,162.39 L516.19,162.57 L516.67,162.76 L517.15,162.94 L517.62,163.12 L518.10,163.30 L518.57,163.49 L519.05,163.67 L519.53,163.85 L520.00,164.03 L520.48,164.21 L520.96,164.40 L521.43,164.58 L521.91,164.76 L522.39,164.94 L522.86,165.12 L523.34,165.30 L523.82,165.48 L524.29,165.66 L524.77,165.84 L525.25,166.02 L525.72,166.20 L526.20,166.38 L526.68,166.56 L527.15,166.74 L527.63,166.92 L528.11,167.10 L528.58,167.28 L529.06,167.46 L529.54,167.64 L530.01,167.82 L530.49,168.00 L530.96,168.18 L531.44,168.36 L531.92,168.53 L532.39,168.71 L532.87,168.89 L533.35,169.07 L533.82,169.25 L534.30,169.42 L534.78,169.60 L535.25,169.78 L535.73,169.96 L536.21,170.13 L536.68,170.31 L537.16,170.49 L537.64,170.66 L538.11,170.84 L538.59,171.01 L539.07,171.19 L539.54,171.37 L540.02,171.54 L540.50,171.72 L540.97,171.89 L541.45,172.07 L541.93,172.24 L542.40,172.42 L542.88,172.59 L543.35,172.77 L543.83,172.94 L544.31,173.12 L544.78,173.29 L545.26,173.46 L545.74,173.64 L546.21,173.81 L546.69,173.98 L547.17,174.16 L547.64,174.33 L548.12,174.50 L548.60,174.68 L549.07,174.85 L549.55,175.02 L550.03,175.19 L550.50,175.37 L550.98,175.54 L551.46,175.71 L551.93,175.88 L552.41,176.05 L552.89,176.22 L553.36,176.40 L553.84,176.57 L554.32,176.74 L554.79,176.91 L555.27,177.08 L555.74,177.25 L556.22,177.42 L556.70,177.59 L557.17,177.76 L557.65,177.93 L558.13,178.10 L558.60,178.27 L559.08,178.44 L559.56,178.60 L560.03,178.77 L560.51,178.94 L560.99,179.11 L561.46,179.28 L561.94,179.45 L562.42,179.61 L562.89,179.78 L563.37,179.95 L563.85,180.12 L564.32,180.28 L564.80,180.45 L565.28,180.62 L565.75,180.78 L566.23,180.95 L566.71,181.12 L567.18,181.28 L567.66,181.45 L568.13,181.61 L568.61,181.78 L569.09,181.95 L569.56,182.11 L570.04,182.28 L570.52,182.44 L570.99,182.61 L571.47,182.77 L571.95,182.93 L572.42,183.10 L572.90,183.26 L573.38,183.43 L573.85,183.59 L574.33,183.75 L574.81,183.92 L575.28,184.08 L575.76,184.24 L576.24,184.41 L576.71,184.57 L577.19,184.73 L577.67,184.89 L578.14,185.05 L578.62,185.22 L579.10,185.38 L579.57,185.54 L580.05,185.70 L580.52,185.86 L581.00,186.02 L581.48,186.18 L581.95,186.34 L582.43,186.50 L582.91,186.67 L583.38,186.83 L583.86,186.99 L584.34,187.14 L584.81,187.30 L585.29,187.46 L585.77,187.62 L586.24,187.78 L586.72,187.94 L587.20,188.10 L587.67,188.26 L588.15,188.42 L588.63,188.58 L589.10,188.73 L589.58,188.89 L590.06,189.05 L590.53,189.21 L591.01,189.36 L591.49,189.52 L591.96,189.68 L592.44,189.84 L592.91,189.99 L593.39,190.15 L593.87,190.31 L594.34,190.46 L594.82,190.62 L595.30,190.77 L595.77,190.93 L596.25,191.09 L596.73,191.24 L597.20,191.40 L597.68,191.55 L598.16,191.71 L598.63,191.86 L599.11,192.02 L599.59,192.17 L600.06,192.33 L600.54,192.48 L601.02,192.63 L601.49,192.79 L601.97,192.94 L602.45,193.10 L602.92,193.25 L603.40,193.40 L603.88,193.56 L604.35,193.71 L604.83,193.86 L605.30,194.02 L605.78,194.17 L606.26,194.32 L606.73,194.47 L607.21,194.63 L607.69,194.78 L608.16,194.93 L608.64,195.08 L609.12,195.23 L609.59,195.38 L610.07,195.54 L610.55,195.69 L611.02,195.84 L611.50,195.99" stroke="#0000ff"/>
<path d="M54.43,397.62 L54.90,393.75 L55.38,389.91 L55.86,386.12 L56.33,382.35 L56.81,378.62 L57.29,374.93 L57.76,371.27 L58.24,367.64 L58.72,364.05 L59.19,360.49 L59.67,356.96 L60.14,353.47 L60.62,350.01 L61.10,346.58 L61.57,343.18 L62.05,339.81 L62.53,336.48 L63.00,333.17 L63.48,329.89 L63.96,326.65 L64.43,323.43 L64.91,320.25 L65.39,317.09 L65.86,313.96 L66.34,310.87 L66.82,307.80 L67.29,304.76 L67.77,301.74 L68.25,298.76 L68.72,295.81 L69.20,292.89 L69.68,289.99 L70.15,287.13 L70.63,284.29 L71.11,281.48 L71.58,278.69 L72.06,275.94 L72.53,273.21 L73.01,270.50 L73.49,267.83 L73.96,265.18 L74.44,262.55 L74.92,259.95 L75.39,257.38 L75.87,254.83 L76.35,252.31 L76.82,249.81 L77.30,247.33 L77.78,244.88 L78.25,242.45 L78.73,240.05 L79.21,237.67 L79.68,235.31 L80.16,232.98 L80.64,230.67 L81.11,228.38 L81.59,226.12 L82.07,223.88 L82.54,221.66 L83.02,219.46 L83.50,217.29 L83.97,215.14 L84.45,213.01 L84.92,210.90 L85.40,208.82 L85.88,206.75 L86.35,204.71 L86.83,202.69 L87.31,200.68 L87.78,198.70 L88.26,196.74 L88.74,194.80 L89.21,192.88 L89.69,190.97 L90.17,189.09 L90.64,187.23 L91.12,185.38 L91.60,183.56 L92.07,181.75 L92.55,179.96 L93.03,178.19 L93.50,176.44 L93.98,174.70 L94.46,172.98 L94.93,171.29 L95.41,169.61 L95.89,167.94 L96.36,166.30 L96.84,164.67 L97.31,163.06 L97.79,161.47 L98.27,159.90 L98.74,158.34 L99.22,156.79 L99.70,155.27 L100.17,153.76 L100.65,152.26 L101.13,150.79 L101.60,149.32 L102.08,147.88 L102.56,146.45 L103.03,145.03 L103.51,143.63 L103.99,142.24 L104.46,140.87 L104.94,139.52 L105.42,138.18 L105.89,136.85 L106.37,135.54 L106.85,134.24 L107.32,132.95 L107.80,131.68 L108.28,130.42 L108.75,129.18 L109.23,127.96 L109.70,126.74 L110.18,125.54 L110.66,124.36 L111.13,123.19 L111.61,122.03 L112.09,120.88 L112.56,119.75 L113.04,118.63 L113.52,117.52 L113.99,116.43 L114.47,115.34 L114.95,114.27 L115.42,113.21 L115.90,112.16 L116.38,111.12 L116.85,110.10 L117.33,109.08 L117.81,108.08 L118.28,107.08 L118.76,106.10 L119.24,105.12 L119.71,104.16 L120.19,103.21 L120.67,102.26 L121.14,101.33 L121.62,100.40 L122.09,99.49 L122.57,98.59 L123.05,97.70 L123.52,96.83 L124.00,95.96 L124.48,95.10 L124.95,94.26 L125.43,93.43 L125.91,92.60 L126.38,91.79 L126.86,90.99 L127.34,90.20 L127.81,89.42 L128.29,88.65 L128.77,87.88 L129.24,87.13 L129.72,86.39 L130.20,85.65 L130.67,84.93 L131.15,84.22 L131.63,83.51 L132.10,82.81 L132.58,82.12 L133.06,81.44 L133.53,80.77 L134.01,80.11 L134.48,79.46 L134.96,78.81 L135.44,78.17 L135.91,77.54 L136.39,76.92 L136.87,76.30 L137.34,75.70 L137.82,75.10 L138.30,74.50 L138.77,73.92 L139.25,73.34 L139.73,72.77 L140.20,72.21 L140.68,71.65 L141.16,71.10 L141.63,70.56 L142.11,70.02 L142.59,69.49 L143.06,68.97 L143.54,68.46 L144.02,67.96 L144.49,67.46 L144.97,66.97 L145.45,66.48 L145.92,66.00 L146.40,65.53 L146.87,65.07 L147.35,64.61 L147.83,64.16 L148.30,63.72 L148.78,63.28 L149.26,62.85 L149.73,62.42 L150.21,62.01 L150.69,61.59 L151.16,61.19 L151.64,60.79 L152.12,60.39 L152.59,60.00 L153.07,59.62 L153.55,59.24 L154.02,58.87 L154.50,58.51 L154.98,58.14 L155.45,57.79 L155.93,57.44 L156.41,57.10 L156.88,56.76 L157.36,56.42 L157.84,56.09 L158.31,55.77 L158.79,55.45 L159.26,55.14 L159.74,54.83 L160.22,54.52 L160.69,54.22 L161.17,53.93 L161.65,53.64 L162.12,53.35 L162.60,53.07 L163.08,52.80 L163.55,52.53 L164.03,52.26 L164.51,52.00 L164.98,51.75 L165.46,51.50 L165.94,51.25 L166.41,51.01 L166.89,50.77 L167.37,50.54 L167.84,50.31 L168.32,50.08 L168.80,49.86 L169.27,49.65 L169.75,49.43 L170.23,49.23 L170.70,49.02 L171.18,48.82 L171.65,48.63 L172.13,48.44 L172.61,48.25 L173.08,48.07 L173.56,47.89 L174.04,47.71 L174.51,47.54 L174.99,47.37 L175.47,47.21 L175.94,47.05 L176.42,46.89 L176.90,46.74 L177.37,46.59 L177.85,46.44 L178.33,46.30 L178.80,46.16 L179.28,46.02 L179.76,45.89 L180.23,45.76 L180.71,45.63 L181.19,45.51 L181.66,45.39 L182.14,45.28 L182.62,45.16 L183.09,45.05 L183.57,44.95 L184.04,44.85 L184.52,44.75 L185.00,44.65 L185.47,44.56 L185.95,44.47 L186.43,44.38 L186.90,44.30 L187.38,44.22 L187.86,44.15 L188.33,44.07 L188.81,44.00 L189.29,43.94 L189.76,43.87 L190.24,43.81 L190.72,43.75 L191.19,43.70 L191.67,43.64 L192.15,43.60 L192.62,43.55 L193.10,43.51 L193.58,43.46 L194.05,43.43 L194.53,43.39 L195.01,43.36 L195.48,43.33 L195.96,43.30 L196.43,43.28 L196.91,43.26 L197.39,43.24 L197.86,43.23 L198.34,43.21 L198.82,43.20 L199.29,43.20 L199.77,43.19 L200.25,43.19 L200.72,43.19 L201.20,43.19 L201.68,43.20 L202.15,43.20 L202.63,43.21 L203.11,43.23 L203.58,43.24 L204.06,43.25 L204.54,43.27 L205.01,43.29 L205.49,43.31 L205.97,43.34 L206.44,43.36 L206.92,43.39 L207.40,43.41 L207.87,43.44 L208.35,43.47 L208.82,43.51 L209.30,43.54 L209.78,43.58 L210.25,43.61 L210.73,43.65 L211.21,43.69 L211.68,43.73 L212.16,43.77 L212.64,43.81 L213.11,43.85 L213.59,43.90 L214.07,43.94 L214.54,43.99 L215.02,44.04 L215.50,44.09 L215.97,44.14 L216.45,44.20 L216.93,44.26 L217.40,44.32 L217.88,44.39 L218.36,44.45 L218.83,44.53 L219.31,44.60 L219.79,44.68 L220.26,44.76 L220.74,44.85 L221.21,44.94 L221.69,45.03 L222.17,45.13 L222.64,45.23 L223.12,45.34 L223.60,45.45 L224.07,45.56 L224.55,45.67 L225.03,45.79 L225.50,45.90 L225.98,46.02 L226.46,46.14 L226.93,46.26 L227.41,46.37 L227.89,46.49 L228.36,46.61 L228.84,46.72 L229.32,46.84 L229.79,46.95 L230.27,47.06 L230.75,47.17 L231.22,47.28 L231.70,47.39 L232.18,47.50 L232.65,47.62 L233.13,47.73 L233.60,47.85 L234.08,47.96 L234.56,48.08 L235.03,48.20 L235.51,48.32 L235.99,48.44 L236.46,48.56 L236.94,48.68 L237.42,48.80 L237.89,48.93 L238.37,49.05 L238.85,49.18 L239.32,49.30 L239.80,49.43 L240.28,49.56 L240.75,49.69 L241.23,49.82 L241.71,49.95 L242.18,50.08 L242.66,50.22 L243.14,50.35 L243.61,50.49 L244.09,50.62 L244.57,50.76 L245.04,50.90 L245.52,51.04 L245.99,51.18 L246.47,51.32 L246.95,51.47 L247.42,51.61 L247.90,51.75 L248.38,51.90 L248.85,52.05 L249.33,52.20 L249.81,52.35 L250.28,52.50 L250.76,52.65 L251.24,52.80 L251.71,52.95 L252.19,53.11 L252.67,53.26 L253.14,53.42 L253.62,53.58 L254.10,53.74 L254.57,53.90 L255.05,54.06 L255.53,54.22 L256.00,54.38 L256.48,54.55 L256.96,54.71 L257.43,54.88 L257.91,55.04 L258.38,55.21 L258.86,55.37 L259.34,55.54 L259.81,55.71 L260.29,55.88 L260.77,56.05 L261.24,56.22 L261.72,56.39 L262.20,56.56 L262.67,56.73 L263.15,56.91 L263.63,57.08 L264.10,57.26 L264.58,57.43 L265.06,57.61 L265.53,57.79 L266.01,57.97 L266.49,58.15 L266.96,58.33 L267.44,58.51 L267.92,58.69 L268.39,58.87 L268.87,59.06 L269.35,59.24 L269.82,59.43 L270.30,59.62 L270.77,59.81 L271.25,60.00 L271.73,60.19 L272.20,60.38 L272.68,60.57 L273.16,60.76 L273.63,60.96 L274.11,61.15 L274.59,61.35 L275.06,61.54 L275.54,61.74 L276.02,61.94 L276.49,62.14 L276.97,62.34 L277.45,62.54 L277.92,62.74 L278.40,62.94 L278.88,63.15 L279.35,63.35 L279.83,63.55 L280.31,63.76 L280.78,63.96 L281.26,64.17 L281.74,64.38 L282.21,64.59 L282.69,64.79 L283.16,65.00 L283.64,65.21 L284.12,65.42 L284.59,65.63 L285.07,65.85 L285.55,66.06 L286.02,66.27 L286.50,66.48 L286.98,66.70 L287.45,66.91 L287.93,67.13 L288.41,67.34 L288.88,67.56 L289.36,67.77 L289.84,67.99 L290.31,68.21 L290.79,68.42 L291.27,68.64 L291.74,68.86 L292.22,69.08 L292.70,69.30 L293.17,69.52 L293.65,69.73 L294.13,69.95 L294.60,70.18 L295.08,70.40 L295.55,70.62 L296.03,70.84 L296.51,71.06 L296.98,71.28 L297.46,71.50 L297.94,71.73 L298.41,71.95 L298.89,72.17 L299.37,72.40 L299.84,72.62 L300.32,72.84 L300.80,73.07 L301.27,73.29 L301.75,73.51 L302.23,73.74 L302.70,73.96 L303.18,74.19 L303.66,74.41 L304.13,74.64 L304.61,74.86 L305.09,75.09 L305.56,75.31 L306.04,75.54 L306.52,75.76 L306.99,75.99 L307.47,76.21 L307.94,76.43 L308.42,76.66 L308.90,76.88 L309.37,77.11 L309.85,77.33 L310.33,77.56 L310.80,77.78 L311.28,78.00 L311.76,78.23 L312.23,78.45 L312.71,78.68 L313.19,78.91 L313.66,79.13 L314.14,79.36 L314.62,79.59 L315.09,79.81 L315.57,80.04 L316.05,80.27 L316.52,80.49 L317.00,80.72 L317.48,80.95 L317.95,81.18 L318.43,81.41 L318.91,81.63 L319.38,81.86 L319.86,82.09 L320.33,82.32 L320.81,82.55 L321.29,82.78 L321.76,83.01 L322.24,83.23 L322.72,83.46 L323.19,83.69 L323.67,83.92 L324.15,84.15 L324.62,84.38 L325.10,84.61 L325.58,84.84 L326.05,85.06 L326.53,85.29 L327.01,85.52 L327.48,85.75 L327.96,85.98 L328.44,86.21 L328.91,86.43 L329.39,86.66 L329.87,86.89 L330.34,87.12 L330.82,87.35 L331.30,87.57 L331.77,87.80 L332.25,88.03 L332.72,88.26 L333.20,88.48 L333.68,88.71 L334.15,88.94 L334.63,89.17 L335.11,89.39 L335.58,89.62 L336.06,89.85 L336.54,90.07 L337.01,90.30 L337.49,90.53 L337.97,90.76 L338.44,90.98 L338.92,91.21 L339.40,91.44 L339.87,91.67 L340.35,91.89 L340.83,92.12 L341.30,92.35 L341.78,92.58 L342.26,92.80 L342.73,93.03 L343.21,93.26 L343.69,93.49 L344.16,93.71 L344.64,93.94 L345.11,94.17 L345.59,94.40 L346.07,94.62 L346.54,94.85 L347.02,95.08 L347.50,95.31 L347.97,95.54 L348.45,95.77 L348.93,95.99 L349.40,96.22 L349.88,96.45 L350.36,96.68 L350.83,96.91 L351.31,97.14 L351.79,97.37 L352.26,97.60 L352.74,97.83 L353.22,98.06 L353.69,98.29 L354.17,98.52 L354.65,98.75 L355.12,98.98 L355.60,99.21 L356.08,99.44 L356.55,99.67 L357.03,99.90 L357.50,100.13 L357.98,100.36 L358.46,100.59 L358.93,100.82 L359.41,101.05 L359.89,101.28 L360.36,101.51 L360.84,101.74 L361.32,101.97 L361.79,102.20 L362.27,102.43 L362.75,102.66 L363.22,102.89 L363.70,103.12 L364.18,103.35 L364.65,103.58 L365.13,103.81 L365.61,104.04 L366.08,104.27 L366.56,104.50 L367.04,104.73 L367.51,104.96 L367.99,105.19 L368.47,105.42 L368.94,105.65 L369.42,105.88 L369.89,106.11 L370.37,106.34 L370.85,106.57 L371.32,106.80 L371.80,107.03 L372.28,107.26 L372.75,107.49 L373.23,107.71 L373.71,107.94 L374.18,108.17 L374.66,108.40 L375.14,108.63 L375.61,108.86 L376.09,109.09 L376.57,109.31 L377.04,109.54 L377.52,109.77 L378.00,110.00 L378.47,110.22 L378.95,110.45 L379.43,110.68 L379.90,110.91 L380.38,111.13 L380.86,111.36 L381.33,111.59 L381.81,111.81 L382.28,112.04 L382.76,112.26 L383.24,112.49 L383.71,112.71 L384.19,112.94 L384.67,113.17 L385.14,113.39 L385.62,113.62 L386.10,113.84 L386.57,114.07 L387.05,114.29 L387.53,114.52 L388.00,114.74 L388.48,114.97 L388.96,115.19 L389.43,115.42 L389.91,115.64 L390.39,115.87 L390.86,116.09 L391.34,116.32 L391.82,116.54 L392.29,116.77 L392.77,116.99 L393.25,117.22 L393.72,117.44 L394.20,117.66 L394.67,117.89 L395.15,118.11 L395.63,118.34 L396.10,118.56 L396.58,118.78 L397.06,119.01 L397.53,119.23 L398.01,119.45 L398.49,119.68 L398.96,119.90 L399.44,120.12 L399.92,120.34 L400.39,120.57 L400.87,120.79 L401.35,121.01 L401.82,121.23 L402.30,121.45 L402.78,121.68 L403.25,121.90 L403.73,122.12 L404.21,122.34 L404.68,122.56 L405.16,122.78 L405.64,123.00 L406.11,123.22 L406.59,123.44 L407.06,123.66 L407.54,123.88 L408.02,124.10 L408.49,124.32 L408.97,124.54 L409.45,124.76 L409.92,124.98 L410.40,125.20 L410.88,125.42 L411.35,125.63 L411.83,125.85 L412.31,126.07 L412.78,126.29 L413.26,126.50 L413.74,126.72 L414.21,126.94 L414.69,127.15 L415.17,127.37 L415.64,127.59 L416.12,127.80 L416.60,128.02 L417.07,128.23 L417.55,128.45 L418.03,128.66 L418.50,128.88 L418.98,129.09 L419.45,129.30 L419.93,129.52 L420.41,129.73 L420.88,129.94 L421.36,130.16 L421.84,130.37 L422.31,130.58 L422.79,130.80 L423.27,131.01 L423.74,131.22 L424.22,131.43 L424.70,131.64 L425.17,131.86 L425.65,132.07 L426.13,132.28 L426.60,132.49 L427.08,132.70 L427.56,132.91 L428.03,133.12 L428.51,133.34 L428.99,133.55 L429.46,133.76 L429.94,133.97 L430.42,134.18 L430.89,134.39 L431.37,134.60 L431.84,134.81 L432.32,135.02 L432.80,135.23 L433.27,135.44 L433.75,135.65 L434.23,135.86 L434.70,136.07 L435.18,136.27 L435.66,136.48 L436.13,136.69 L436.61,136.90 L437.09,137.11 L437.56,137.32 L438.04,137.53 L438.52,137.73 L438.99,137.94 L439.47,138.15 L439.95,138.36 L440.42,138.56 L440.90,138.77 L441.38,138.98 L441.85,139.19 L442.33,139.39 L442.81,139.60 L443.28,139.81 L443.76,140.01 L444.23,140.22 L444.71,140.43 L445.19,140.63 L445.66,140.84 L446.14,141.04 L446.62,141.25 L447.09,141.45 L447.57,141.66 L448.05,141.86 L448.52,142.07 L449.00,142.27 L449.48,142.48 L449.95,142.68 L450.43,142.89 L450.91,143.09 L451.38,143.30 L451.86,143.50 L452.34,143.70 L452.81,143.91 L453.29,144.11 L453.77,144.31 L454.24,144.52 L454.72,144.72 L455.20,144.92 L455.67,145.12 L456.15,145.33 L456.62,145.53 L457.10,145.73 L457.58,145.93 L458.05,146.14 L458.53,146.34 L459.01,146.54 L459.48,146.74 L459.96,146.94 L460.44,147.14 L460.91,147.34 L461.39,147.54 L461.87,147.74 L462.34,147.94 L462.82,148.14 L463.30,148.34 L463.77,148.54 L464.25,148.74 L464.73,148.94 L465.20,149.14 L465.68,149.34 L466.16,149.54 L466.63,149.74 L467.11,149.94 L467.59,150.14 L468.06,150.33 L468.54,150.53 L469.01,150.73 L469.49,150.93 L469.97,151.13 L470.44,151.32 L470.92,151.52 L471.40,151.72 L471.87,151.92 L472.35,152.11 L472.83,152.31 L473.30,152.50 L473.78,152.70 L474.26,152.90 L474.73,153.09 L475.21,153.29 L475.69,153.48 L476.16,153.68 L476.64,153.88 L477.12,154.07 L477.59,154.27 L478.07,154.46 L478.55,154.65 L479.02,154.85 L479.50,155.04 L479.98,155.24 L480.45,155.43 L480.93,155.62 L481.40,155.82 L481.88,156.01 L482.36,156.20 L482.83,156.40 L483.31,156.59 L483.79,156.78 L484.26,156.98 L484.74,157.17 L485.22,157.36 L485.69,157.55 L486.17,157.74 L486.65,157.93 L487.12,158.13 L487.60,158.32 L488.08,158.51 L488.55,158.70 L489.03,158.89 L489.51,159.08 L489.98,159.27 L490.46,159.46 L490.94,159.65 L491.41,159.84 L491.89,160.03 L492.37,160.22 L492.84,160.41 L493.32,160.60 L493.79,160.79 L494.27,160.97 L494.75,161.16 L495.22,161.35 L495.70,161.54 L496.18,161.73 L496.65,161.91 L497.13,162.10 L497.61,162.29 L498.08,162.47 L498.56,162.66 L499.04,162.85 L499.51,163.03 L499.99,163.22 L500.47,163.41 L500.94,163.59 L501.42,163.78 L501.90,163.96 L502.37,164.15 L502.85,164.33 L503.33,164.52 L503.80,164.70 L504.28,164.89 L504.76,165.07 L505.23,165.25 L505.71,165.44 L506.18,165.62 L506.66,165.81 L507.14,165.99 L507.61,166.17 L508.09,166.35 L508.57,166.54 L509.04,166.72 L509.52,166.90 L510.00,167.08 L510.47,167.27 L510.95,167.45 L511.43,167.63 L511.90,167.81 L512.38,167.99 L512.86,168.17 L513.33,168.35 L513.81,168.53 L514.29,168.71 L514.76,168.89 L515.24,169.07 L515.72,169.25 L516.19,169.43 L516.67,169.61 L517.15,169.79 L517.62,169.97 L518.10,170.15 L518.57,170.33 L519.05,170.51 L519.53,170.68 L520.00,170.86 L520.48,171.04 L520.96,171.22 L521.43,171.39 L521.91,171.57 L522.39,171.75 L522.86,171.93 L523.34,172.10 L523.82,172.28 L524.29,172.46 L524.77,172.63 L525.25,172.81 L525.72,172.98 L526.20,173.16 L526.68,173.34 L527.15,173.51 L527.63,173.69 L528.11,173.86 L528.58,174.04 L529.06,174.21 L529.54,174.38 L530.01,174.56 L530.49,174.73 L530.96,174.91 L531.44,175.08 L531.92,175.25 L532.39,175.43 L532.87,175.60 L533.35,175.77 L533.82,175.95 L534.30,176.12 L534.78,176.29 L535.25,176.46 L535.73,176.64 L536.21,176.81 L536.68,176.98 L537.16,177.15 L537.64,177.32 L538.11,177.49 L538.59,177.67 L539.07,177.84 L539.54,178.01 L540.02,178.18 L540.50,178.35 L540.97,178.52 L541.45,178.69 L541.93,178.86 L542.40,179.03 L542.88,179.20 L543.35,179.37 L543.83,179.54 L544.31,179.71 L544.78,179.88 L545.26,180.04 L545.74,180.21 L546.21,180.38 L546.69,180.55 L547.17,180.72 L547.64,180.89 L548.12,181.05 L548.60,181.22 L549.07,181.39 L549.55,181.56 L550.03,181.72 L550.50,181.89 L550.98,182.06 L551.46,182.22 L551.93,182.39 L552.41,182.56 L552.89,182.72 L553.36,182.89 L553.84,183.06 L554.32,183.22 L554.79,183.39 L555.27,183.55 L555.74,183.72 L556.22,183.88 L556.70,184.05 L557.17,184.21 L557.65,184.38 L558.13,184.54 L558.60,184.71 L559.08,184.87 L559.56,185.04 L560.03,185.20 L560.51,185.36 L560.99,185.53 L561.46,185.69 L561.94,185.85 L562.42,186.02 L562.89,186.18 L563.37,186.34 L563.85,186.51 L564.32,186.67 L564.80,186.83 L565.28,186.99 L565.75,187.16 L566.23,187.32 L566.71,187.48 L567.18,187.64 L567.66,187.80 L568.13,187.96 L568.61,188.13 L569.09,188.29 L569.56,188.45 L570.04,188.61 L570.52,188.77 L570.99,188.93 L571.47,189.09 L571.95,189.25 L572.42,189.41 L572.90,189.57 L573.38,189.73 L573.85,189.89 L574.33,190.05 L574.81,190.21 L575.28,190.37 L575.76,190.53 L576.24,190.69 L576.71,190.85 L577.19,191.01 L577.67,191.17 L578.14,191.32 L578.62,191.48 L579.10,191.64 L579.57,191.80 L580.05,191.96 L580.52,192.12 L581.00,192.27 L581.48,192.43 L581.95,192.59 L582.43,192.75 L582.91,192.90 L583.38,193.06 L583.86,193.22 L584.34,193.37 L584.81,193.53 L585.29,193.69 L585.77,193.84 L586.24,194.00 L586.72,194.16 L587.20,194.31 L587.67,194.47 L588.15,194.62 L588.63,194.78 L589.10,194.93 L589.58,195.09 L590.06,195.24 L590.53,195.40 L591.01,195.55 L591.49,195.71 L591.96,195.86 L592.44,196.02 L592.91,196.17 L593.39,196.32 L593.87,196.48 L594.34,196.63 L594.82,196.79 L595.30,196.94 L595.77,197.09 L596.25,197.25 L596.73,197.40 L597.20,197.55 L597.68,197.70 L598.16,197.86 L598.63,198.01 L599.11,198.16 L599.59,198.31 L600.06,198.47 L600.54,198.62 L601.02,198.77 L601.49,198.92 L601.97,199.07 L602.45,199.22 L602.92,199.37 L603.40,199.52 L603.88,199.67 L604.35,199.82 L604.83,199.98 L605.30,200.13 L605.78,200.28 L606.26,200.43 L606.73,200.57 L607.21,200.72 L607.69,200.87 L608.16,201.02 L608.64,201.17 L609.12,201.32 L609.59,201.47 L610.07,201.62 L610.55,201.77 L611.02,201.91 L611.50,202.06" stroke="#ff0000"/>
<path d="M80.16,398.70 L80.64,394.90 L81.11,391.14 L81.59,387.42 L82.07,383.74 L82.54,380.09 L83.02,376.48 L83.50,372.91 L83.97,369.37 L84.45,365.88 L84.92,362.41 L85.40,358.99 L85.88,355.59 L86.35,352.24 L86.83,348.91 L87.31,345.62 L87.78,342.37 L88.26,339.15 L88.74,335.96 L89.21,332.80 L89.69,329.68 L90.17,326.59 L90.64,323.53 L91.12,320.50 L91.60,317.50 L92.07,314.54 L92.55,311.60 L93.03,308.69 L93.50,305.82 L93.98,302.97 L94.46,300.15 L94.93,297.36 L95.41,294.60 L95.89,291.87 L96.36,289.16 L96.84,286.48 L97.31,283.83 L97.79,281.21 L98.27,278.61 L98.74,276.04 L99.22,273.50 L99.70,270.98 L100.17,268.48 L100.65,266.02 L101.13,263.57 L101.60,261.15 L102.08,258.76 L102.56,256.39 L103.03,254.05 L103.51,251.73 L103.99,249.43 L104.46,247.16 L104.94,244.91 L105.42,242.68 L105.89,240.47 L106.37,238.29 L106.85,236.13 L107.32,233.99 L107.80,231.88 L108.28,229.78 L108.75,227.71 L109.23,225.65 L109.70,223.62 L110.18,221.61 L110.66,219.62 L111.13,217.65 L111.61,215.69 L112.09,213.76 L112.56,211.85 L113.04,209.96 L113.52,208.08 L113.99,206.23 L114.47,204.39 L114.95,202.58 L115.42,200.78 L115.90,199.00 L116.38,197.24 L116.85,195.50 L117.33,193.78 L117.81,192.07 L118.28,190.39 L118.76,188.72 L119.24,187.07 L119.71,185.43 L120.19,183.82 L120.67,182.22 L121.14,180.64 L121.62,179.07 L122.09,177.52 L122.57,175.99 L123.05,174.47 L123.52,172.96 L124.00,171.48 L124.48,170.00 L124.95,168.54 L125.43,167.10 L125.91,165.67 L126.38,164.26 L126.86,162.86 L127.34,161.47 L127.81,160.10 L128.29,158.74 L128.77,157.40 L129.24,156.07 L129.72,154.75 L130.20,153.45 L130.67,152.16 L131.15,150.89 L131.63,149.63 L132.10,148.38 L132.58,147.14 L133.06,145.92 L133.53,144.71 L134.01,143.52 L134.48,142.33 L134.96,141.16 L135.44,140.00 L135.91,138.86 L136.39,137.72 L136.87,136.60 L137.34,135.49 L137.82,134.40 L138.30,133.31 L138.77,132.24 L139.25,131.18 L139.73,130.13 L140.20,129.09 L140.68,128.06 L141.16,127.05 L141.63,126.04 L142.11,125.05 L142.59,124.07 L143.06,123.10 L143.54,122.14 L144.02,121.19 L144.49,120.24 L144.97,119.31 L145.45,118.39 L145.92,117.48 L146.40,116.58 L146.87,115.69 L147.35,114.81 L147.83,113.94 L148.30,113.08 L148.78,112.23 L149.26,111.39 L149.73,110.56 L150.21,109.74 L150.69,108.92 L151.16,108.12 L151.64,107.32 L152.12,106.54 L152.59,105.76 L153.07,104.99 L153.55,104.23 L154.02,103.48 L154.50,102.74 L154.98,102.01 L155.45,101.28 L155.93,100.57 L156.41,99.86 L156.88,99.16 L157.36,98.47 L157.84,97.79 L158.31,97.11 L158.79,96.45 L159.26,95.79 L159.74,95.14 L160.22,94.50 L160.69,93.86 L161.17,93.24 L161.65,92.62 L162.12,92.01 L162.60,91.40 L163.08,90.81 L163.55,90.22 L164.03,89.63 L164.51,89.06 L164.98,88.49 L165.46,87.93 L165.94,87.38 L166.41,86.83 L166.89,86.29 L167.37,85.76 L167.84,85.23 L168.32,84.71 L168.80,84.20 L169.27,83.69 L169.75,83.19 L170.23,82.70 L170.70,82.21 L171.18,81.73 L171.65,81.26 L172.13,80.79 L172.61,80.33 L173.08,79.87 L173.56,79.42 L174.04,78.98 L174.51,78.54 L174.99,78.11 L175.47,77.69 L175.94,77.27 L176.42,76.86 L176.90,76.45 L177.37,76.05 L177.85,75.65 L178.33,75.26 L178.80,74.87 L179.28,74.49 L179.76,74.12 L180.23,73.75 L180.71,73.39 L181.19,73.03 L181.66,72.68 L182.14,72.33 L182.62,71.99 L183.09,71.65 L183.57,71.32 L184.04,70.99 L184.52,70.67 L185.00,70.35 L185.47,70.04 L185.95,69.73 L186.43,69.43 L186.90,69.13 L187.38,68.84 L187.86,68.55 L188.33,68.26 L188.81,67.99 L189.29,67.71 L189.76,67.44 L190.24,67.17 L190.72,66.91 L191.19,66.65 L191.67,66.40 L192.15,66.15 L192.62,65.91 L193.10,65.67 L193.58,65.43 L194.05,65.20 L194.53,64.97 L195.01,64.74 L195.48,64.52 L195.96,64.31 L196.43,64.10 L196.91,63.89 L197.39,63.68 L197.86,63.48 L198.34,63.28 L198.82,63.09 L199.29,62.90 L199.77,62.72 L200.25,62.53 L200.72,62.35 L201.20,62.18 L201.68,62.01 L202.15,61.84 L202.63,61.68 L203.11,61.52 L203.58,61.36 L204.06,61.21 L204.54,61.06 L205.01,60.91 L205.49,60.77 L205.97,60.63 L206.44,60.49 L206.92,60.36 L207.40,60.24 L207.87,60.11 L208.35,59.99 L208.82,59.87 L209.30,59.76 L209.78,59.65 L210.25,59.54 L210.73,59.44 L211.21,59.34 L211.68,59.24 L212.16,59.15 L212.64,59.06 L213.11,58.97 L213.59,58.89 L214.07,58.81 L214.54,58.73 L215.02,58.66 L215.50,58.59 L215.97,58.52 L216.45,58.45 L216.93,58.39 L217.40,58.32 L217.88,58.26 L218.36,58.21 L218.83,58.15 L219.31,58.09 L219.79,58.04 L220.26,57.99 L220.74,57.94 L221.21,57.89 L221.69,57.84 L222.17,57.80 L222.64,57.75 L223.12,57.71 L223.60,57.67 L224.07,57.63 L224.55,57.59 L225.03,57.56 L225.50,57.52 L225.98,57.50 L226.46,57.47 L226.93,57.44 L227.41,57.42 L227.89,57.40 L228.36,57.39 L228.84,57.38 L229.32,57.37 L229.79,57.37 L230.27,57.37 L230.75,57.37 L231.22,57.38 L231.70,57.39 L232.18,57.40 L232.65,57.41 L233.13,57.42 L233.60,57.44 L234.08,57.46 L234.56,57.48 L235.03,57.50 L235.51,57.53 L235.99,57.56 L236.46,57.59 L236.94,57.62 L237.42,57.65 L237.89,57.69 L238.37,57.73 L238.85,57.77 L239.32,57.81 L239.80,57.85 L240.28,57.90 L240.75,57.94 L241.23,57.99 L241.71,58.04 L242.18,58.10 L242.66,58.15 L243.14,58.21 L243.61,58.27 L244.09,58.32 L244.57,58.39 L245.04,58.45 L245.52,58.51 L245.99,58.58 L246.47,58.65 L246.95,58.72 L247.42,58.79 L247.90,58.86 L248.38,58.93 L248.85,59.01 L249.33,59.09 L249.81,59.16 L250.28,59.24 L250.76,59.33 L251.24,59.41 L251.71,59.49 L252.19,59.58 L252.67,59.66 L253.14,59.75 L253.62,59.84 L254.10,59.93 L254.57,60.02 L255.05,60.11 L255.53,60.21 L256.00,60.30 L256.48,60.40 L256.96,60.50 L257.43,60.60 L257.91,60.70 L258.38,60.80 L258.86,60.91 L259.34,61.01 L259.81,61.12 L260.29,61.23 L260.77,61.33 L261.24,61.44 L261.72,61.56 L262.20,61.67 L262.67,61.78 L263.15,61.90 L263.63,62.01 L264.10,62.13 L264.58,62.25 L265.06,62.37 L265.53,62.49 L266.01,62.61 L266.49,62.73 L266.96,62.85 L267.44,62.98 L267.92,63.10 L268.39,63.23 L268.87,63.35 L269.35,63.48 L269.82,63.61 L270.30,63.74 L270.77,63.87 L271.25,64.00 L271.73,64.13 L272.20,64.26 L272.68,64.39 L273.16,64.53 L273.63,64.66 L274.11,64.80 L274.59,64.93 L275.06,65.07 L275.54,65.21 L276.02,65.35 L276.49,65.48 L276.97,65.62 L277.45,65.77 L277.92,65.91 L278.40,66.05 L278.88,66.19 L279.35,66.34 L279.83,66.48 L280.31,66.62 L280.78,66.77 L281.26,66.92 L281.74,67.06 L282.21,67.21 L282.69,67.36 L283.16,67.51 L283.64,67.66 L284.12,67.81 L284.59,67.96 L285.07,68.11 L285.55,68.27 L286.02,68.42 L286.50,68.57 L286.98,68.73 L287.45,68.89 L287.93,69.04 L288.41,69.20 L288.88,69.36 L289.36,69.51 L289.84,69.67 L290.31,69.83 L290.79,69.99 L291.27,70.15 L291.74,70.31 L292.22,70.48 L292.70,70.64 L293.17,70.80 L293.65,70.97 L294.13,71.13 L294.60,71.29 L295.08,71.46 L295.55,71.63 L296.03,71.79 L296.51,71.96 L296.98,72.13 L297.46,72.30 L297.94,72.47 L298.41,72.64 L298.89,72.81 L299.37,72.98 L299.84,73.15 L300.32,73.32 L300.80,73.50 L301.27,73.67 L301.75,73.84 L302.23,74.02 L302.70,74.19 L303.18,74.37 L303.66,74.54 L304.13,74.72 L304.61,74.90 L305.09,75.08 L305.56,75.26 L306.04,75.44 L306.52,75.62 L306.99,75.80 L307.47,75.98 L307.94,76.16 L308.42,76.34 L308.90,76.52 L309.37,76.71 L309.85,76.89 L310.33,77.08 L310.80,77.26 L311.28,77.45 L311.76,77.63 L312.23,77.82 L312.71,78.01 L313.19,78.19 L313.66,78.38 L314.14,78.57 L314.62,78.76 L315.09,78.95 L315.57,79.13 L316.05,79.32 L316.52,79.51 L317.00,79.70 L317.48,79.89 L317.95,80.08 L318.43,80.28 L318.91,80.47 L319.38,80.66 L319.86,80.85 L320.33,81.04 L320.81,81.24 L321.29,81.43 L321.76,81.62 L322.24,81.82 L322.72,82.01 L323.19,82.21 L323.67,82.40 L324.15,82.60 L324.62,82.79 L325.10,82.99 L325.58,83.18 L326.05,83.38 L326.53,83.58 L327.01,83.78 L327.48,83.97 L327.96,84.17 L328.44,84.37 L328.91,84.57 L329.39,84.77 L329.87,84.97 L330.34,85.17 L330.82,85.37 L331.30,85.57 L331.77,85.77 L332.25,85.97 L332.72,86.18 L333.20,86.38 L333.68,86.58 L334.15,86.78 L334.63,86.99 L335.11,87.19 L335.58,87.39 L336.06,87.60 L336.54,87.80 L337.01,88.01 L337.49,88.21 L337.97,88.41 L338.44,88.62 L338.92,88.82 L339.40,89.03 L339.87,89.24 L340.35,89.44 L340.83,89.65 L341.30,89.85 L341.78,90.06 L342.26,90.27 L342.73,90.47 L343.21,90.68 L343.69,90.89 L344.16,91.09 L344.64,91.30 L345.11,91.51 L345.59,91.72 L346.07,91.92 L346.54,92.13 L347.02,92.34 L347.50,92.55 L347.97,92.76 L348.45,92.96 L348.93,93.17 L349.40,93.38 L349.88,93.59 L350.36,93.80 L350.83,94.01 L351.31,94.21 L351.79,94.42 L352.26,94.63 L352.74,94.84 L353.22,95.05 L353.69,95.26 L354.17,95.47 L354.65,95.68 L355.12,95.89 L355.60,96.10 L356.08,96.31 L356.55,96.51 L357.03,96.72 L357.50,96.93 L357.98,97.14 L358.46,97.35 L358.93,97.56 L359.41,97.77 L359.89,97.98 L360.36,98.19 L360.84,98.40 L361.32,98.61 L361.79,98.82 L362.27,99.03 L362.75,99.24 L363.22,99.45 L363.70,99.66 L364.18,99.87 L364.65,100.08 L365.13,100.29 L365.61,100.50 L366.08,100.71 L366.56,100.93 L367.04,101.14 L367.51,101.35 L367.99,101.56 L368.47,101.77 L368.94,101.98 L369.42,102.19 L369.89,102.40 L370.37,102.61 L370.85,102.82 L371.32,103.03 L371.80,103.25 L372.28,103.46 L372.75,103.67 L373.23,103.88 L373.71,104.09 L374.18,104.30 L374.66,104.51 L375.14,104.72 L375.61,104.94 L376.09,105.15 L376.57,105.36 L377.04,105.57 L377.52,105.78 L378.00,105.99 L378.47,106.21 L378.95,106.42 L379.43,106.63 L379.90,106.84 L380.38,107.05 L380.86,107.27 L381.33,107.48 L381.81,107.69 L382.28,107.90 L382.76,108.12 L383.24,108.33 L383.71,108.54 L384.19,108.75 L384.67,108.96 L385.14,109.18 L385.62,109.39 L386.10,109.60 L386.57,109.81 L387.05,110.03 L387.53,110.24 L388.00,110.45 L388.48,110.66 L388.96,110.87 L389.43,111.08 L389.91,111.30 L390.39,111.51 L390.86,111.72 L391.34,111.93 L391.82,112.14 L392.29,112.35 L392.77,112.57 L393.25,112.78 L393.72,112.99 L394.20,113.20 L394.67,113.41 L395.15,113.62 L395.63,113.84 L396.10,114.05 L396.58,114.26 L397.06,114.47 L397.53,114.68 L398.01,114.89 L398.49,115.10 L398.96,115.31 L399.44,115.52 L399.92,115.74 L400.39,115.95 L400.87,116.16 L401.35,116.37 L401.82,116.58 L402.30,116.79 L402.78,117.00 L403.25,117.21 L403.73,117.42 L404.21,117.63 L404.68,117.84 L405.16,118.05 L405.64,118.26 L406.11,118.47 L406.59,118.68 L407.06,118.90 L407.54,119.11 L408.02,119.32 L408.49,119.53 L408.97,119.74 L409.45,119.95 L409.92,120.16 L410.40,120.37 L410.88,120.58 L411.35,120.79 L411.83,121.00 L412.31,121.21 L412.78,121.42 L413.26,121.63 L413.74,121.84 L414.21,122.05 L414.69,122.26 L415.17,122.47 L415.64,122.68 L416.12,122.89 L416.60,123.10 L417.07,123.31 L417.55,123.52 L418.03,123.73 L418.50,123.94 L418.98,124.15 L419.45,124.36 L419.93,124.57 L420.41,124.78 L420.88,124.99 L421.36,125.19 L421.84,125.40 L422.31,125.61 L422.79,125.82 L423.27,126.03 L423.74,126.24 L424.22,126.45 L424.70,126.66 L425.17,126.87 L425.65,127.08 L426.13,127.28 L426.60,127.49 L427.08,127.70 L427.56,127.91 L428.03,128.12 L428.51,128.33 L428.99,128.53 L429.46,128.74 L429.94,128.95 L430.42,129.16 L430.89,129.36 L431.37,129.57 L431.84,129.78 L432.32,129.98 L432.80,130.19 L433.27,130.40 L433.75,130.60 L434.23,130.81 L434.70,131.02 L435.18,131.22 L435.66,131.43 L436.13,131.64 L436.61,131.84 L437.09,132.05 L437.56,132.25 L438.04,132.46 L438.52,132.66 L438.99,132.87 L439.47,133.07 L439.95,133.28 L440.42,133.48 L440.90,133.69 L441.38,133.89 L441.85,134.10 L442.33,134.30 L442.81,134.51 L443.28,134.71 L443.76,134.91 L444.23,135.12 L444.71,135.32 L445.19,135.53 L445.66,135.73 L446.14,135.93 L446.62,136.14 L447.09,136.34 L447.57,136.54 L448.05,136.74 L448.52,136.95 L449.00,137.15 L449.48,137.35 L449.95,137.55 L450.43,137.76 L450.91,137.96 L451.38,138.16 L451.86,138.36 L452.34,138.56 L452.81,138.77 L453.29,138.97 L453.77,139.17 L454.24,139.37 L454.72,139.57 L455.20,139.77 L455.67,139.97 L456.15,140.17 L456.62,140.37 L457.10,140.57 L457.58,140.77 L458.05,140.97 L458.53,141.17 L459.01,141.37 L459.48,141.57 L459.96,141.77 L460.44,141.97 L460.91,142.17 L461.39,142.37 L461.87,142.57 L462.34,142.77 L462.82,142.97 L463.30,143.16 L463.77,143.36 L464.25,143.56 L464.73,143.76 L465.20,143.96 L465.68,144.15 L466.16,144.35 L466.63,144.55 L467.11,144.75 L467.59,144.94 L468.06,145.14 L468.54,145.34 L469.01,145.53 L469.49,145.73 L469.97,145.93 L470.44,146.12 L470.92,146.32 L471.40,146.52 L471.87,146.71 L472.35,146.91 L472.83,147.10 L473.30,147.30 L473.78,147.49 L474.26,147.69 L474.73,147.88 L475.21,148.08 L475.69,148.27 L476.16,148.47 L476.64,148.66 L477.12,148.86 L477.59,149.05 L478.07,149.24 L478.55,149.44 L479.02,149.63 L479.50,149.83 L479.98,150.02 L480.45,150.21 L480.93,150.41 L481.40,150.60 L481.88,150.79 L482.36,150.98 L482.83,151.18 L483.31,151.37 L483.79,151.56 L484.26,151.75 L484.74,151.94 L485.22,152.14 L485.69,152.33 L486.17,152.52 L486.65,152.71 L487.12,152.90 L487.60,153.09 L488.08,153.28 L488.55,153.47 L489.03,153.66 L489.51,153.85 L489.98,154.05 L490.46,154.24 L490.94,154.43 L491.41,154.61 L491.89,154.80 L492.37,154.99 L492.84,155.18 L493.32,155.37 L493.79,155.56 L494.27,155.75 L494.75,155.94 L495.22,156.13 L495.70,156.32 L496.18,156.51 L496.65,156.69 L497.13,156.88 L497.61,157.07 L498.08,157.26 L498.56,157.45 L499.04,157.63 L499.51,157.82 L499.99,158.01 L500.47,158.19 L500.94,158.38 L501.42,158.57 L501.90,158.76 L502.37,158.94 L502.85,159.13 L503.33,159.31 L503.80,159.50 L504.28,159.69 L504.76,159.87 L505.23,160.06 L505.71,160.24 L506.18,160.43 L506.66,160.61 L507.14,160.80 L507.61,160.98 L508.09,161.17 L508.57,161.35 L509.04,161.54 L509.52,161.72 L510.00,161.91 L510.47,162.09 L510.95,162.27 L511.43,162.46 L511.90,162.64 L512.38,162.82 L512.86,163.01 L513.33,163.19 L513.81,163.37 L514.29,163.56 L514.76,163.74 L515.24,163.92 L515.72,164.10 L516.19,164.29 L516.67,164.47 L517.15,164.65 L517.62,164.83 L518.10,165.01 L518.57,165.20 L519.05,165.38 L519.53,165.56 L520.00,165.74 L520.48,165.92 L520.96,166.10 L521.43,166.28 L521.91,166.46 L522.39,166.64 L522.86,166.82 L523.34,167.00 L523.82,167.18 L524.29,167.36 L524.77,167.54 L525.25,167.72 L525.72,167.90 L526.20,168.08 L526.68,168.26 L527.15,168.44 L527.63,168.61 L528.11,168.79 L528.58,168.97 L529.06,169.15 L529.54,169.33 L530.01,169.50 L530.49,169.68 L530.96,169.86 L531.44,170.04 L531.92,170.21 L532.39,170.39 L532.87,170.57 L533.35,170.74 L533.82,170.92 L534.30,171.10 L534.78,171.27 L535.25,171.45 L535.73,171.63 L536.21,171.80 L536.68,171.98 L537.16,172.15 L537.64,172.33 L538.11,172.50 L538.59,172.68 L539.07,172.85 L539.54,173.03 L540.02,173.20 L540.50,173.38 L540.97,173.55 L541.45,173.72 L541.93,173.90 L542.40,174.07 L542.88,174.24 L543.35,174.42 L543.83,174.59 L544.31,174.76 L544.78,174.94 L545.26,175.11 L545.74,175.28 L546.21,175.45 L546.69,175.63 L547.17,175.80 L547.64,175.97 L548.12,176.14 L548.60,176.31 L549.07,176.48 L549.55,176.66 L550.03,176.83 L550.50,177.00 L550.98,177.17 L551.46,177.34 L551.93,177.51 L552.41,177.68 L552.89,177.85 L553.36,178.02 L553.84,178.19 L554.32,178.36 L554.79,178.53 L555.27,178.70 L555.74,178.87 L556.22,179.03 L556.70,179.20 L557.17,179.37 L557.65,179.54 L558.13,179.71 L558.60,179.88 L559.08,180.04 L559.56,180.21 L560.03,180.38 L560.51,180.55 L560.99,180.71 L561.46,180.88 L561.94,181.05 L562.42,181.21 L562.89,181.38 L563.37,181.55 L563.85,181.71 L564.32,181.88 L564.80,182.05 L565.28,182.21 L565.75,182.38 L566.23,182.54 L566.71,182.71 L567.18,182.87 L567.66,183.04 L568.13,183.20 L568.61,183.37 L569.09,183.53 L569.56,183.70 L570.04,183.86 L570.52,184.02 L570.99,184.19 L571.47,184.35 L571.95,184.51 L572.42,184.68 L572.90,184.84 L573.38,185.00 L573.85,185.17 L574.33,185.33 L574.81,185.49 L575.28,185.65 L575.76,185.81 L576.24,185.98 L576.71,186.14 L577.19,186.30 L577.67,186.46 L578.14,186.62 L578.62,186.78 L579.10,186.94 L579.57,187.10 L580.05,187.27 L580.52,187.43 L581.00,187.59 L581.48,187.75 L581.95,187.91 L582.43,188.07 L582.91,188.22 L583.38,188.38 L583.86,188.54 L584.34,188.70 L584.81,188.86 L585.29,189.02 L585.77,189.18 L586.24,189.34 L586.72,189.49 L587.20,189.65 L587.67,189.81 L588.15,189.97 L588.63,190.13 L589.10,190.28 L589.58,190.44 L590.06,190.60 L590.53,190.75 L591.01,190.91 L591.49,191.07 L591.96,191.22 L592.44,191.38 L592.91,191.54 L593.39,191.69 L593.87,191.85 L594.34,192.00 L594.82,192.16 L595.30,192.32 L595.77,192.47 L596.25,192.63 L596.73,192.78 L597.20,192.94 L597.68,193.09 L598.16,193.24 L598.63,193.40 L599.11,193.55 L599.59,193.71 L600.06,193.86 L600.54,194.01 L601.02,194.17 L601.49,194.32 L601.97,194.47 L602.45,194.63 L602.92,194.78 L603.40,194.93 L603.88,195.09 L604.35,195.24 L604.83,195.39 L605.30,195.54 L605.78,195.69 L606.26,195.85 L606.73,196.00 L607.21,196.15 L607.69,196.30 L608.16,196.45 L608.64,196.60 L609.12,196.75 L609.59,196.91 L610.07,197.06 L610.55,197.21 L611.02,197.36 L611.50,197.51" stroke="#00ff00"/>
<path d="M64.43,398.75 L64.91,394.83 L65.39,390.95 L65.86,387.11 L66.34,383.31 L66.82,379.55 L67.29,375.82 L67.77,372.13 L68.25,368.47 L68.72,364.86 L69.20,361.28 L69.68,357.74 L70.15,354.23 L70.63,350.76 L71.11,347.32 L71.58,343.92 L72.06,340.55 L72.53,337.22 L73.01,333.92 L73.49,330.65 L73.96,327.42 L74.44,324.22 L74.92,321.05 L75.39,317.91 L75.87,314.80 L76.35,311.73 L76.82,308.69 L77.30,305.67 L77.78,302.69 L78.25,299.74 L78.73,296.81 L79.21,293.92 L79.68,291.06 L80.16,288.22 L80.64,285.41 L81.11,282.63 L81.59,279.88 L82.07,277.16 L82.54,274.47 L83.02,271.80 L83.50,269.16 L83.97,266.55 L84.45,263.97 L84.92,261.41 L85.40,258.87 L85.88,256.37 L86.35,253.88 L86.83,251.43 L87.31,249.00 L87.78,246.59 L88.26,244.21 L88.74,241.85 L89.21,239.52 L89.69,237.21 L90.17,234.92 L90.64,232.66 L91.12,230.42 L91.60,228.20 L92.07,226.01 L92.55,223.84 L93.03,221.69 L93.50,219.56 L93.98,217.46 L94.46,215.37 L94.93,213.31 L95.41,211.27 L95.89,209.25 L96.36,207.25 L96.84,205.28 L97.31,203.32 L97.79,201.38 L98.27,199.47 L98.74,197.57 L99.22,195.69 L99.70,193.84 L100.17,192.00 L100.65,190.18 L101.13,188.38 L101.60,186.60 L102.08,184.84 L102.56,183.10 L103.03,181.37 L103.51,179.66 L103.99,177.97 L104.46,176.30 L104.94,174.65 L105.42,173.01 L105.89,171.39 L106.37,169.79 L106.85,168.20 L107.32,166.63 L107.80,165.08 L108.28,163.54 L108.75,162.02 L109.23,160.52 L109.70,159.04 L110.18,157.57 L110.66,156.11 L111.13,154.67 L111.61,153.25 L112.09,151.84 L112.56,150.45 L113.04,149.07 L113.52,147.71 L113.99,146.36 L114.47,145.03 L114.95,143.71 L115.42,142.40 L115.90,141.11 L116.38,139.83 L116.85,138.57 L117.33,137.31 L117.81,136.08 L118.28,134.85 L118.76,133.64 L119.24,132.44 L119.71,131.25 L120.19,130.08 L120.67,128.91 L121.14,127.76 L121.62,126.63 L122.09,125.50 L122.57,124.39 L123.05,123.29 L123.52,122.21 L124.00,121.13 L124.48,120.07 L124.95,119.02 L125.43,117.99 L125.91,116.96 L126.38,115.95 L126.86,114.95 L127.34,113.96 L127.81,112.98 L128.29,112.01 L128.77,111.06 L129.24,110.11 L129.72,109.18 L130.20,108.25 L130.67,107.34 L131.15,106.44 L131.63,105.55 L132.10,104.67 L132.58,103.80 L133.06,102.94 L133.53,102.09 L134.01,101.25 L134.48,100.41 L134.96,99.59 L135.44,98.78 L135.91,97.98 L136.39,97.19 L136.87,96.40 L137.34,95.63 L137.82,94.86 L138.30,94.11 L138.77,93.36 L139.25,92.62 L139.73,91.89 L140.20,91.17 L140.68,90.45 L141.16,89.75 L141.63,89.05 L142.11,88.37 L142.59,87.69 L143.06,87.02 L143.54,86.35 L144.02,85.70 L144.49,85.05 L144.97,84.42 L145.45,83.79 L145.92,83.16 L146.40,82.55 L146.87,81.95 L147.35,81.35 L147.83,80.76 L148.30,80.17 L148.78,79.60 L149.26,79.03 L149.73,78.47 L150.21,77.92 L150.69,77.37 L151.16,76.83 L151.64,76.30 L152.12,75.77 L152.59,75.26 L153.07,74.74 L153.55,74.24 L154.02,73.74 L154.50,73.25 L154.98,72.77 L155.45,72.29 L155.93,71.82 L156.41,71.35 L156.88,70.89 L157.36,70.44 L157.84,69.99 L158.31,69.55 L158.79,69.12 L159.26,68.69 L159.74,68.26 L160.22,67.85 L160.69,67.44 L161.17,67.03 L161.65,66.63 L162.12,66.24 L162.60,65.85 L163.08,65.47 L163.55,65.09 L164.03,64.72 L164.51,64.35 L164.98,64.00 L165.46,63.64 L165.94,63.29 L166.41,62.95 L166.89,62.61 L167.37,62.28 L167.84,61.95 L168.32,61.63 L168.80,61.31 L169.27,61.00 L169.75,60.69 L170.23,60.38 L170.70,60.09 L171.18,59.79 L171.65,59.51 L172.13,59.22 L172.61,58.94 L173.08,58.67 L173.56,58.40 L174.04,58.14 L174.51,57.88 L174.99,57.62 L175.47,57.37 L175.94,57.12 L176.42,56.88 L176.90,56.64 L177.37,56.41 L177.85,56.18 L178.33,55.95 L178.80,55.73 L179.28,55.51 L179.76,55.30 L180.23,55.09 L180.71,54.88 L181.19,54.68 L181.66,54.49 L182.14,54.29 L182.62,54.11 L183.09,53.92 L183.57,53.74 L184.04,53.56 L184.52,53.39 L185.00,53.22 L185.47,53.05 L185.95,52.89 L186.43,52.73 L186.90,52.58 L187.38,52.43 L187.86,52.28 L188.33,52.14 L188.81,52.00 L189.29,51.86 L189.76,51.73 L190.24,51.60 L190.72,51.47 L191.19,51.35 L191.67,51.23 L192.15,51.11 L192.62,51.00 L193.10,50.89 L193.58,50.79 L194.05,50.68 L194.53,50.58 L195.01,50.49 L195.48,50.40 L195.96,50.31 L196.43,50.22 L196.91,50.14 L197.39,50.06 L197.86,49.98 L198.34,49.90 L198.82,49.83 L199.29,49.76 L199.77,49.70 L200.25,49.64 L200.72,49.58 L201.20,49.52 L201.68,49.47 L202.15,49.42 L202.63,49.37 L203.11,49.32 L203.58,49.28 L204.06,49.24 L204.54,49.20 L205.01,49.16 L205.49,49.13 L205.97,49.10 L206.44,49.07 L206.92,49.05 L207.40,49.02 L207.87,49.00 L208.35,48.98 L208.82,48.96 L209.30,48.95 L209.78,48.93 L210.25,48.92 L210.73,48.91 L211.21,48.90 L211.68,48.90 L212.16,48.89 L212.64,48.89 L213.11,48.89 L213.59,48.89 L214.07,48.90 L214.54,48.90 L215.02,48.91 L215.50,48.92 L215.97,48.94 L216.45,48.95 L216.93,48.97 L217.40,48.99 L217.88,49.01 L218.36,49.04 L218.83,49.07 L219.31,49.10 L219.79,49.13 L220.26,49.17 L220.74,49.21 L221.21,49.26 L221.69,49.30 L222.17,49.35 L222.64,49.41 L223.12,49.46 L223.60,49.52 L224.07,49.58 L224.55,49.65 L225.03,49.71 L225.50,49.78 L225.98,49.85 L226.46,49.92 L226.93,49.99 L227.41,50.06 L227.89,50.13 L228.36,50.20 L228.84,50.28 L229.32,50.35 L229.79,50.42 L230.27,50.50 L230.75,50.57 L231.22,50.65 L231.70,50.72 L232.18,50.80 L232.65,50.88 L233.13,50.96 L233.60,51.04 L234.08,51.13 L234.56,51.21 L235.03,51.30 L235.51,51.39 L235.99,51.48 L236.46,51.57 L236.94,51.66 L237.42,51.75 L237.89,51.85 L238.37,51.94 L238.85,52.04 L239.32,52.14 L239.80,52.24 L240.28,52.34 L240.75,52.44 L241.23,52.54 L241.71,52.65 L242.18,52.76 L242.66,52.86 L243.14,52.97 L243.61,53.08 L244.09,53.19 L244.57,53.30 L245.04,53.42 L245.52,53.53 L245.99,53.65 L246.47,53.76 L246.95,53.88 L247.42,54.00 L247.90,54.12 L248.38,54.25 L248.85,54.37 L249.33,54.49 L249.81,54.62 L250.28,54.74 L250.76,54.87 L251.24,55.00 L251.71,55.13 L252.19,55.26 L252.67,55.40 L253.14,55.53 L253.62,55.67 L254.10,55.80 L254.57,55.94 L255.05,56.08 L255.53,56.22 L256.00,56.36 L256.48,56.50 L256.96,56.64 L257.43,56.78 L257.91,56.93 L258.38,57.07 L258.86,57.22 L259.34,57.37 L259.81,57.51 L260.29,57.66 L260.77,57.81 L261.24,57.96 L261.72,58.11 L262.20,58.26 L262.67,58.42 L263.15,58.57 L263.63,58.73 L264.10,58.88 L264.58,59.04 L265.06,59.20 L265.53,59.35 L266.01,59.51 L266.49,59.67 L266.96,59.83 L267.44,60.00 L267.92,60.16 L268.39,60.32 L268.87,60.49 L269.35,60.66 L269.82,60.82 L270.30,60.99 L270.77,61.16 L271.25,61.33 L271.73,61.50 L272.20,61.67 L272.68,61.84 L273.16,62.02 L273.63,62.19 L274.11,62.37 L274.59,62.54 L275.06,62.72 L275.54,62.90 L276.02,63.07 L276.49,63.25 L276.97,63.43 L277.45,63.61 L277.92,63.80 L278.40,63.98 L278.88,64.16 L279.35,64.34 L279.83,64.53 L280.31,64.71 L280.78,64.90 L281.26,65.09 L281.74,65.27 L282.21,65.46 L282.69,65.65 L283.16,65.84 L283.64,66.03 L284.12,66.22 L284.59,66.41 L285.07,66.60 L285.55,66.79 L286.02,66.99 L286.50,67.18 L286.98,67.37 L287.45,67.57 L287.93,67.76 L288.41,67.96 L288.88,68.16 L289.36,68.35 L289.84,68.55 L290.31,68.75 L290.79,68.95 L291.27,69.14 L291.74,69.34 L292.22,69.54 L292.70,69.74 L293.17,69.94 L293.65,70.15 L294.13,70.35 L294.60,70.55 L295.08,70.75 L295.55,70.95 L296.03,71.16 L296.51,71.36 L296.98,71.56 L297.46,71.77 L297.94,71.97 L298.41,72.18 L298.89,72.38 L299.37,72.59 L299.84,72.80 L300.32,73.00 L300.80,73.21 L301.27,73.42 L301.75,73.62 L302.23,73.83 L302.70,74.04 L303.18,74.25 L303.66,74.46 L304.13,74.67 L304.61,74.87 L305.09,75.08 L305.56,75.29 L306.04,75.50 L306.52,75.71 L306.99,75.92 L307.47,76.13 L307.94,76.34 L308.42,76.55 L308.90,76.76 L309.37,76.97 L309.85,77.19 L310.33,77.40 L310.80,77.61 L311.28,77.82 L311.76,78.03 L312.23,78.24 L312.71,78.46 L313.19,78.67 L313.66,78.88 L314.14,79.10 L314.62,79.31 L315.09,79.52 L315.57,79.74 L316.05,79.95 L316.52,80.17 L317.00,80.38 L317.48,80.60 L317.95,80.81 L318.43,81.03 L318.91,81.24 L319.38,81.46 L319.86,81.68 L320.33,81.89 L320.81,82.11 L321.29,82.33 L321.76,82.54 L322.24,82.76 L322.72,82.98 L323.19,83.20 L323.67,83.41 L324.15,83.63 L324.62,83.85 L325.10,84.07 L325.58,84.29 L326.05,84.50 L326.53,84.72 L327.01,84.94 L327.48,85.16 L327.96,85.38 L328.44,85.59 L328.91,85.81 L329.39,86.03 L329.87,86.25 L330.34,86.47 L330.82,86.69 L331.30,86.91 L331.77,87.12 L332.25,87.34 L332.72,87.56 L333.20,87.78 L333.68,88.00 L334.15,88.22 L334.63,88.44 L335.11,88.66 L335.58,88.88 L336.06,89.10 L336.54,89.32 L337.01,89.54 L337.49,89.76 L337.97,89.98 L338.44,90.20 L338.92,90.42 L339.40,90.64 L339.87,90.86 L340.35,91.08 L340.83,91.30 L341.30,91.52 L341.78,91.74 L342.26,91.96 L342.73,92.18 L343.21,92.40 L343.69,92.62 L344.16,92.84 L344.64,93.06 L345.11,93.28 L345.59,93.50 L346.07,93.72 L346.54,93.95 L347.02,94.17 L347.50,94.39 L347.97,94.61 L348.45,94.83 L348.93,95.05 L349.40,95.28 L349.88,95.50 L350.36,95.72 L350.83,95.94 L351.31,96.16 L351.79,96.39 L352.26,96.61 L352.74,96.83 L353.22,97.05 L353.69,97.28 L354.17,97.50 L354.65,97.72 L355.12,97.95 L355.60,98.17 L356.08,98.39 L356.55,98.62 L357.03,98.84 L357.50,99.06 L357.98,99.29 L358.46,99.51 L358.93,99.73 L359.41,99.96 L359.89,100.18 L360.36,100.40 L360.84,100.63 L361.32,100.85 L361.79,101.07 L362.27,101.30 L362.75,101.52 L363.22,101.74 L363.70,101.97 L364.18,102.19 L364.65,102.41 L365.13,102.64 L365.61,102.86 L366.08,103.09 L366.56,103.31 L367.04,103.53 L367.51,103.76 L367.99,103.98 L368.47,104.20 L368.94,104.43 L369.42,104.65 L369.89,104.87 L370.37,105.10 L370.85,105.32 L371.32,105.54 L371.80,105.77 L372.28,105.99 L372.75,106.21 L373.23,106.44 L373.71,106.66 L374.18,106.88 L374.66,107.11 L375.14,107.33 L375.61,107.55 L376.09,107.77 L376.57,108.00 L377.04,108.22 L377.52,108.44 L378.00,108.66 L378.47,108.89 L378.95,109.11 L379.43,109.33 L379.90,109.55 L380.38,109.77 L380.86,109.99 L381.33,110.22 L381.81,110.44 L382.28,110.66 L382.76,110.88 L383.24,111.10 L383.71,111.32 L384.19,111.54 L384.67,111.77 L385.14,111.99 L385.62,112.21 L386.10,112.43 L386.57,112.65 L387.05,112.87 L387.53,113.09 L388.00,113.31 L388.48,113.53 L388.96,113.75 L389.43,113.97 L389.91,114.19 L390.39,114.41 L390.86,114.64 L391.34,114.86 L391.82,115.08 L392.29,115.30 L392.77,115.52 L393.25,115.74 L393.72,115.96 L394.20,116.18 L394.67,116.40 L395.15,116.62 L395.63,116.84 L396.10,117.05 L396.58,117.27 L397.06,117.49 L397.53,117.71 L398.01,117.93 L398.49,118.15 L398.96,118.37 L399.44,118.59 L399.92,118.81 L400.39,119.03 L400.87,119.24 L401.35,119.46 L401.82,119.68 L402.30,119.90 L402.78,120.12 L403.25,120.34 L403.73,120.55 L404.21,120.77 L404.68,120.99 L405.16,121.21 L405.64,121.42 L406.11,121.64 L406.59,121.86 L407.06,122.07 L407.54,122.29 L408.02,122.51 L408.49,122.72 L408.97,122.94 L409.45,123.16 L409.92,123.37 L410.40,123.59 L410.88,123.80 L411.35,124.02 L411.83,124.23 L412.31,124.45 L412.78,124.66 L413.26,124.88 L413.74,125.09 L414.21,125.31 L414.69,125.52 L415.17,125.74 L415.64,125.95 L416.12,126.16 L416.60,126.38 L417.07,126.59 L417.55,126.80 L418.03,127.02 L418.50,127.23 L418.98,127.44 L419.45,127.66 L419.93,127.87 L420.41,128.08 L420.88,128.29 L421.36,128.50 L421.84,128.71 L422.31,128.93 L422.79,129.14 L423.27,129.35 L423.74,129.56 L424.22,129.77 L424.70,129.98 L425.17,130.19 L425.65,130.40 L426.13,130.61 L426.60,130.82 L427.08,131.04 L427.56,131.25 L428.03,131.46 L428.51,131.67 L428.99,131.88 L429.46,132.08 L429.94,132.29 L430.42,132.50 L430.89,132.71 L431.37,132.92 L431.84,133.13 L432.32,133.34 L432.80,133.55 L433.27,133.76 L433.75,133.97 L434.23,134.17 L434.70,134.38 L435.18,134.59 L435.66,134.80 L436.13,135.01 L436.61,135.21 L437.09,135.42 L437.56,135.63 L438.04,135.84 L438.52,136.04 L438.99,136.25 L439.47,136.46 L439.95,136.66 L440.42,136.87 L440.90,137.08 L441.38,137.28 L441.85,137.49 L442.33,137.70 L442.81,137.90 L443.28,138.11 L443.76,138.31 L444.23,138.52 L444.71,138.72 L445.19,138.93 L445.66,139.13 L446.14,139.34 L446.62,139.54 L447.09,139.75 L447.57,139.95 L448.05,140.16 L448.52,140.36 L449.00,140.57 L449.48,140.77 L449.95,140.97 L450.43,141.18 L450.91,141.38 L451.38,141.58 L451.86,141.79 L452.34,141.99 L452.81,142.19 L453.29,142.40 L453.77,142.60 L454.24,142.80 L454.72,143.00 L455.20,143.21 L455.67,143.41 L456.15,143.61 L456.62,143.81 L457.10,144.01 L457.58,144.21 L458.05,144.41 L458.53,144.62 L459.01,144.82 L459.48,145.02 L459.96,145.22 L460.44,145.42 L460.91,145.62 L461.39,145.82 L461.87,146.02 L462.34,146.22 L462.82,146.42 L463.30,146.62 L463.77,146.82 L464.25,147.02 L464.73,147.21 L465.20,147.41 L465.68,147.61 L466.16,147.81 L466.63,148.01 L467.11,148.21 L467.59,148.41 L468.06,148.60 L468.54,148.80 L469.01,149.00 L469.49,149.20 L469.97,149.39 L470.44,149.59 L470.92,149.79 L471.40,149.98 L471.87,150.18 L472.35,150.38 L472.83,150.57 L473.30,150.77 L473.78,150.97 L474.26,151.16 L474.73,151.36 L475.21,151.55 L475.69,151.75 L476.16,151.94 L476.64,152.14 L477.12,152.33 L477.59,152.53 L478.07,152.72 L478.55,152.92 L479.02,153.11 L479.50,153.30 L479.98,153.50 L480.45,153.69 L480.93,153.88 L481.40,154.08 L481.88,154.27 L482.36,154.46 L482.83,154.66 L483.31,154.85 L483.79,155.04 L484.26,155.23 L484.74,155.43 L485.22,155.62 L485.69,155.81 L486.17,156.00 L486.65,156.19 L487.12,156.38 L487.60,156.58 L488.08,156.77 L488.55,156.96 L489.03,157.15 L489.51,157.34 L489.98,157.53 L490.46,157.72 L490.94,157.91 L491.41,158.10 L491.89,158.29 L492.37,158.48 L492.84,158.67 L493.32,158.86 L493.79,159.04 L494.27,159.23 L494.75,159.42 L495.22,159.61 L495.70,159.80 L496.18,159.99 L496.65,160.17 L497.13,160.36 L497.61,160.55 L498.08,160.74 L498.56,160.92 L499.04,161.11 L499.51,161.30 L499.99,161.48 L500.47,161.67 L500.94,161.86 L501.42,162.04 L501.90,162.23 L502.37,162.41 L502.85,162.60 L503.33,162.78 L503.80,162.97 L504.28,163.15 L504.76,163.34 L505.23,163.52 L505.71,163.71 L506.18,163.89 L506.66,164.07 L507.14,164.26 L507.61,164.44 L508.09,164.63 L508.57,164.81 L509.04,164.99 L509.52,165.17 L510.00,165.36 L510.47,165.54 L510.95,165.72 L511.43,165.90 L511.90,166.09 L512.38,166.27 L512.86,166.45 L513.33,166.63 L513.81,166.81 L514.29,166.99 L514.76,167.18 L515.24,167.36 L515.72,167.54 L516.19,167.72 L516.67,167.90 L517.15,168.08 L517.62,168.26 L518.10,168.44 L518.57,168.62 L519.05,168.80 L519.53,168.98 L520.00,169.15 L520.48,169.33 L520.96,169.51 L521.43,169.69 L521.91,169.87 L522.39,170.05 L522.86,170.22 L523.34,170.40 L523.82,170.58 L524.29,170.76 L524.77,170.94 L525.25,171.11 L525.72,171.29 L526.20,171.47 L526.68,171.64 L527.15,171.82 L527.63,172.00 L528.11,172.17 L528.58,172.35 L529.06,172.52 L529.54,172.70 L530.01,172.87 L530.49,173.05 L530.96,173.22 L531.44,173.40 L531.92,173.57 L532.39,173.75 L532.87,173.92 L533.35,174.10 L533.82,174.27 L534.30,174.45 L534.78,174.62 L535.25,174.79 L535.73,174.97 L536.21,175.14 L536.68,175.31 L537.16,175.49 L537.64,175.66 L538.11,175.83 L538.59,176.00 L539.07,176.18 L539.54,176.35 L540.02,176.52 L540.50,176.69 L540.97,176.86 L541.45,177.03 L541.93,177.21 L542.40,177.38 L542.88,177.55 L543.35,177.72 L543.83,177.89 L544.31,178.06 L544.78,178.23 L545.26,178.40 L545.74,178.57 L546.21,178.74 L546.69,178.91 L547.17,179.08 L547.64,179.25 L548.12,179.42 L548.60,179.59 L549.07,179.75 L549.55,179.92 L550.03,180.09 L550.50,180.26 L550.98,180.43 L551.46,180.60 L551.93,180.76 L552.41,180.93 L552.89,181.10 L553.36,181.27 L553.84,181.43 L554.32,181.60 L554.79,181.77 L555.27,181.93 L555.74,182.10 L556.22,182.27 L556.70,182.43 L557.17,182.60 L557.65,182.77 L558.13,182.93 L558.60,183.10 L559.08,183.26 L559.56,183.43 L560.03,183.59 L560.51,183.76 L560.99,183.92 L561.46,184.09 L561.94,184.25 L562.42,184.42 L562.89,184.58 L563.37,184.74 L563.85,184.91 L564.32,185.07 L564.80,185.24 L565.28,185.40 L565.75,185.56 L566.23,185.73 L566.71,185.89 L567.18,186.05 L567.66,186.21 L568.13,186.38 L568.61,186.54 L569.09,186.70 L569.56,186.86 L570.04,187.03 L570.52,187.19 L570.99,187.35 L571.47,187.51 L571.95,187.67 L572.42,187.83 L572.90,187.99 L573.38,188.16 L573.85,188.32 L574.33,188.48 L574.81,188.64 L575.28,188.80 L575.76,188.96 L576.24,189.12 L576.71,189.28 L577.19,189.44 L577.67,189.60 L578.14,189.76 L578.62,189.92 L579.10,190.08 L579.57,190.23 L580.05,190.39 L580.52,190.55 L581.00,190.71 L581.48,190.87 L581.95,191.03 L582.43,191.19 L582.91,191.34 L583.38,191.50 L583.86,191.66 L584.34,191.82 L584.81,191.97 L585.29,192.13 L585.77,192.29 L586.24,192.45 L586.72,192.60 L587.20,192.76 L587.67,192.91 L588.15,193.07 L588.63,193.23 L589.10,193.38 L589.58,193.54 L590.06,193.70 L590.53,193.85 L591.01,194.01 L591.49,194.16 L591.96,194.32 L592.44,194.47 L592.91,194.63 L593.39,194.78 L593.87,194.94 L594.34,195.09 L594.82,195.24 L595.30,195.40 L595.77,195.55 L596.25,195.71 L596.73,195.86 L597.20,196.01 L597.68,196.17 L598.16,196.32 L598.63,196.47 L599.11,196.62 L599.59,196.78 L600.06,196.93 L600.54,197.08 L601.02,197.23 L601.49,197.39 L601.97,197.54 L602.45,197.69 L602.92,197.84 L603.40,197.99 L603.88,198.14 L604.35,198.30 L604.83,198.45 L605.30,198.60 L605.78,198.75 L606.26,198.90 L606.73,199.05 L607.21,199.20 L607.69,199.35 L608.16,199.50 L608.64,199.65 L609.12,199.80 L609.59,199.95 L610.07,200.10 L610.55,200.25 L611.02,200.40 L611.50,200.54" stroke="#ff8080"/>
</g>
<path d="M33.05,391.45 H612.0 M33.55,391.95 V33.7 M46.85,391.45 v-4.3 M73.74,391.45 v-7.0 M100.63,391.45 v-4.3 M127.52,391.45 v-4.3 M154.40,391.45 v-4.3 M181.29,391.45 v-4.3 M208.18,391.45 v-7.0 M235.07,391.45 v-4.3 M261.96,391.45 v-4.3 M288.84,391.45 v-4.3 M315.73,391.45 v-4.3 M342.62,391.45 v-7.0 M369.51,391.45 v-4.3 M396.40,391.45 v-4.3 M423.28,391.45 v-4.3 M450.17,391.45 v-4.3 M477.06,391.45 v-7.0 M503.95,391.45 v-4.3 M530.84,391.45 v-4.3 M557.72,391.45 v-4.3 M584.61,391.45 v-4.3 M611.50,391.45 v-7.0 M33.55,391.45 h6.9 M33.55,369.12 h4.2 M33.55,346.79 h4.2 M33.55,324.46 h4.2 M33.55,302.13 h4.2 M33.55,279.80 h6.9 M33.55,257.47 h4.2 M33.55,235.14 h4.2 M33.55,212.81 h4.2 M33.55,190.48 h4.2 M33.55,168.15 h6.9 M33.55,145.82 h4.2 M33.55,123.49 h4.2 M33.55,101.16 h4.2 M33.55,78.83 h4.2 M33.55,56.50 h6.9 M33.55,34.17 h4.2" stroke="#000" stroke-width="0.9" fill="none"/>
<g>
<g font-family="'Liberation Serif', serif" fill="#000">
<text transform="translate(29.4,398.45) scale(0.94,1)" font-size="17.6px" text-anchor="end">0.00</text>
<text transform="translate(29.4,286.8) scale(0.94,1)" font-size="17.6px" text-anchor="end">0.05</text>
<text transform="translate(29.4,175.15) scale(0.94,1)" font-size="17.6px" text-anchor="end">0.10</text>
<text transform="translate(29.4,63.5) scale(0.94,1)" font-size="17.6px" text-anchor="end">0.15</text>
<text transform="translate(73.74,414.9) scale(0.94,1)" font-size="17.6px" text-anchor="middle">2</text>
<text transform="translate(208.18,414.9) scale(0.94,1)" font-size="17.6px" text-anchor="middle">3</text>
<text transform="translate(342.62,414.9) scale(0.94,1)" font-size="17.6px" text-anchor="middle">4</text>
<text transform="translate(477.06,414.9) scale(0.94,1)" font-size="17.6px" text-anchor="middle">5</text>
<text transform="translate(611.5,414.9) scale(0.94,1)" font-size="17.6px" text-anchor="middle">6</text>
</g>
<g font-family="'Liberation Serif', serif" fill="#000">
<text transform="translate(13.4,17.0) scale(1.12,1)" font-size="20.5px" font-style="italic" text-anchor="start">V</text>
<text transform="translate(30.0,17.3) scale(0.85,1)" font-size="23.2px" text-anchor="start">(</text>
<text transform="translate(36.5,17.0) scale(1.3,1)" font-size="19.5px" font-style="italic" text-anchor="start">r</text>
<text transform="translate(47.3,17.3) scale(0.85,1)" font-size="23.2px" text-anchor="start">)</text>
<text transform="translate(623.0,396.6) scale(1.27,1)" font-size="19.5px" font-style="italic" text-anchor="start">r</text>
</g>
<rect x="435.0" y="236.9" width="156.4" height="133.9" rx="6.5" ry="6.5" fill="#fff" stroke="#000" stroke-width="2.3"/>
<g font-family="'Liberation Serif', serif" fill="#000">
<path d="M444,253.2 H472" stroke="#000000" stroke-width="1.5" fill="none"/>
<text transform="translate(475.7,259.4) scale(0.991,1)" font-size="14.6px" font-style="italic" text-anchor="start">V</text>
<text transform="translate(484.32,261.6) scale(1.218,1)" font-size="10.0px" font-style="italic" text-anchor="start">Z</text>
<text transform="translate(493.02,259.7) scale(0.846,1)" font-size="15.3px" text-anchor="start">(</text>
<text transform="translate(497.87,259.4) scale(1.209,1)" font-size="13.0px" font-style="italic" text-anchor="start">r</text>
<text transform="translate(505.0,259.7) scale(0.88,1)" font-size="15.3px" text-anchor="start">)</text>
<path d="M444,276.3 H472" stroke="#0000ff" stroke-width="1.5" fill="none"/>
<text transform="translate(475.73,282.5) scale(0.959,1)" font-size="14.6px" font-style="italic" text-anchor="start">V</text>
<text transform="translate(487.02,282.8) scale(0.846,1)" font-size="15.3px" text-anchor="start">(</text>
<text transform="translate(491.97,282.5) scale(1.209,1)" font-size="13.0px" font-style="italic" text-anchor="start">r</text>
<text transform="translate(499.11,282.8) scale(0.855,1)" font-size="15.3px" text-anchor="start">)</text>
<text transform="translate(504.43,282.5) scale(0.837,1)" font-size="14.0px" text-anchor="start">,</text>
<text transform="translate(510.51,282.5) scale(1.252,1)" font-size="13.0px" font-style="italic" text-anchor="start">a</text>
<text transform="translate(518.51,282.5) scale(1.288,1)" font-size="13.0px" font-style="italic" text-anchor="start">m</text>
<text transform="translate(533.65,284.0) scale(1.36,1)" font-size="15.5px" text-anchor="start">=</text>
<text transform="translate(548.33,282.5) scale(1.035,1)" font-size="13.8px" text-anchor="start">0</text>
<text transform="translate(556.15,282.5) scale(0.714,1)" font-size="14.0px" text-anchor="start">.</text>
<text transform="translate(559.11,282.5) scale(1.105,1)" font-size="13.8px" text-anchor="start">2</text>
<path d="M444,299.35 H472" stroke="#ff0000" stroke-width="1.5" fill="none"/>
<text transform="translate(475.73,305.55) scale(0.959,1)" font-size="14.6px" font-style="italic" text-anchor="start">V</text>
<text transform="translate(487.02,305.85) scale(0.846,1)" font-size="15.3px" text-anchor="start">(</text>
<text transform="translate(491.97,305.55) scale(1.209,1)" font-size="13.0px" font-style="italic" text-anchor="start">r</text>
<text transform="translate(499.11,305.85) scale(0.855,1)" font-size="15.3px" text-anchor="start">)</text>
<text transform="translate(504.43,305.55) scale(0.837,1)" font-size="14.0px" text-anchor="start">,</text>
<text transform="translate(510.51,305.55) scale(1.252,1)" font-size="13.0px" font-style="italic" text-anchor="start">a</text>
<text transform="translate(518.51,305.55) scale(1.288,1)" font-size="13.0px" font-style="italic" text-anchor="start">m</text>
<text transform="translate(533.65,307.05) scale(1.36,1)" font-size="15.5px" text-anchor="start">=</text>
<text transform="translate(548.89,305.95) scale(1.306,1)" font-size="14.0px" text-anchor="start">−</text>
<text transform="translate(559.63,305.55) scale(1.035,1)" font-size="13.8px" text-anchor="start">0</text>
<text transform="translate(567.45,305.55) scale(0.714,1)" font-size="14.0px" text-anchor="start">.</text>
<text transform="translate(570.41,305.55) scale(1.105,1)" font-size="13.8px" text-anchor="start">2</text>
<path d="M444,322.4 H472" stroke="#00ff00" stroke-width="1.5" fill="none"/>
<text transform="translate(475.73,328.6) scale(0.959,1)" font-size="14.6px" font-style="italic" text-anchor="start">V</text>
<text transform="translate(487.02,328.9) scale(0.846,1)" font-size="15.3px" text-anchor="start">(</text>
<text transform="translate(491.97,328.6) scale(1.209,1)" font-size="13.0px" font-style="italic" text-anchor="start">r</text>
<text transform="translate(499.11,328.9) scale(0.855,1)" font-size="15.3px" text-anchor="start">)</text>
<text transform="translate(504.43,328.6) scale(0.837,1)" font-size="14.0px" text-anchor="start">,</text>
<text transform="translate(510.51,328.6) scale(1.252,1)" font-size="13.0px" font-style="italic" text-anchor="start">a</text>
<text transform="translate(518.51,328.6) scale(1.288,1)" font-size="13.0px" font-style="italic" text-anchor="start">m</text>
<text transform="translate(533.65,330.1) scale(1.36,1)" font-size="15.5px" text-anchor="start">=</text>
<text transform="translate(548.33,328.6) scale(1.035,1)" font-size="13.8px" text-anchor="start">0</text>
<text transform="translate(556.15,328.6) scale(0.714,1)" font-size="14.0px" text-anchor="start">.</text>
<text transform="translate(559.11,328.6) scale(1.035,1)" font-size="13.8px" text-anchor="start">1</text>
<path d="M444,345.4 H472" stroke="#ff8080" stroke-width="1.5" fill="none"/>
<text transform="translate(475.73,351.6) scale(0.959,1)" font-size="14.6px" font-style="italic" text-anchor="start">V</text>
<text transform="translate(487.02,351.9) scale(0.846,1)" font-size="15.3px" text-anchor="start">(</text>
<text transform="translate(491.97,351.6) scale(1.209,1)" font-size="13.0px" font-style="italic" text-anchor="start">r</text>
<text transform="translate(499.11,351.9) scale(0.855,1)" font-size="15.3px" text-anchor="start">)</text>
<text transform="translate(504.43,351.6) scale(0.837,1)" font-size="14.0px" text-anchor="start">,</text>
<text transform="translate(510.51,351.6) scale(1.252,1)" font-size="13.0px" font-style="italic" text-anchor="start">a</text>
<text transform="translate(518.51,351.6) scale(1.288,1)" font-size="13.0px" font-style="italic" text-anchor="start">m</text>
<text transform="translate(533.65,353.1) scale(1.36,1)" font-size="15.5px" text-anchor="start">=</text>
<text transform="translate(548.89,352.0) scale(1.306,1)" font-size="14.0px" text-anchor="start">−</text>
<text transform="translate(559.63,351.6) scale(1.035,1)" font-size="13.8px" text-anchor="start">0</text>
<text transform="translate(567.45,351.6) scale(0.714,1)" font-size="14.0px" text-anchor="start">.</text>
<text transform="translate(570.41,351.6) scale(1.035,1)" font-size="13.8px" text-anchor="start">1</text>
</g>
</g>
</svg>
</body></html>
